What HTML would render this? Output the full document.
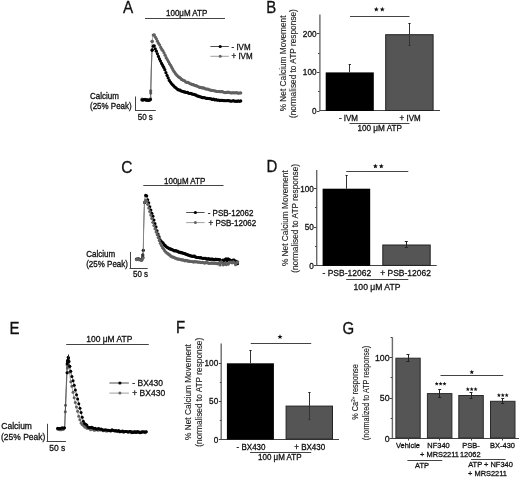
<!DOCTYPE html>
<html><head><meta charset="utf-8"><style>
html,body{margin:0;padding:0;background:#fff;}
svg{display:block;will-change:transform;}
text{font-family:"Liberation Sans",sans-serif;fill:#111;stroke:#111;stroke-width:0.28px;}
</style></head><body>
<svg width="520" height="478" viewBox="0 0 520 478">
<rect width="520" height="478" fill="#fff"/>
<text transform="translate(123,12.5) scale(1,1.12)" font-size="15.3">A</text>
<text transform="translate(166,15.6) scale(1,1.22)" font-size="8">100μM ATP</text>
<line x1="145" y1="18.5" x2="225" y2="18.5" stroke="#444" stroke-width="1"/>
<path d="M142.00,99.30 L142.07,99.30 L142.15,99.31 L142.24,99.31 L142.33,99.32 L142.43,99.33 L142.54,99.33 L142.65,99.34 L142.77,99.35 L142.90,99.36 L143.03,99.37 L143.16,99.38 L143.30,99.38 L143.44,99.39 L143.58,99.40 L143.73,99.41 L143.88,99.42 L144.03,99.43 L144.19,99.44 L144.34,99.45 L144.50,99.46 L144.65,99.46 L144.81,99.47 L144.96,99.48 L145.12,99.48 L145.27,99.49 L145.42,99.49 L145.57,99.50 L145.72,99.50 L145.86,99.50 L146.00,99.50 L146.14,99.50 L146.29,99.51 L146.44,99.52 L146.59,99.54 L146.74,99.56 L146.90,99.58 L147.06,99.61 L147.23,99.63 L147.39,99.66 L147.56,99.69 L147.72,99.72 L147.89,99.74 L148.05,99.77 L148.21,99.79 L148.38,99.81 L148.53,99.82 L148.69,99.83 L148.85,99.84 L149.00,99.84 L149.14,99.83 L149.29,99.82 L149.43,99.80 L149.56,99.77 L149.68,99.74 L149.81,99.69 L149.92,99.64 L150.03,99.57 L150.13,99.49 L150.22,99.40 L150.30,99.30 L150.37,99.19 L150.44,99.09 L150.50,98.99 L150.55,98.89 L150.59,98.80 L150.63,98.70 L150.66,98.60 L150.68,98.49 L150.70,98.38 L150.71,98.27 L150.72,98.15 L150.73,98.02 L150.73,97.88 L150.73,97.73 L150.73,97.57 L150.73,97.40 L150.72,97.22 L150.71,97.02 L150.70,96.80 L150.70,96.56 L150.69,96.31 L150.68,96.04 L150.67,95.74 L150.67,95.43 L150.67,95.09 L150.67,94.72 L150.67,94.33 L150.68,93.92 L150.69,93.47 L150.70,93.00 L150.72,92.49 L150.73,91.95 L150.75,91.36 L150.77,90.75 L150.79,90.10 L150.81,89.42 L150.83,88.72 L150.85,87.99 L150.87,87.23 L150.89,86.46 L150.91,85.67 L150.93,84.86 L150.95,84.04 L150.97,83.20 L150.99,82.36 L151.01,81.50 L151.03,80.65 L151.05,79.79 L151.07,78.92 L151.09,78.06 L151.11,77.21 L151.13,76.35 L151.16,75.51 L151.18,74.68 L151.20,73.85 L151.22,73.05 L151.24,72.25 L151.26,71.48 L151.28,70.73 L151.30,70.00 L151.32,69.28 L151.34,68.56 L151.36,67.83 L151.38,67.10 L151.40,66.37 L151.42,65.63 L151.44,64.90 L151.47,64.16 L151.49,63.43 L151.51,62.70 L151.53,61.98 L151.55,61.26 L151.57,60.54 L151.59,59.83 L151.61,59.12 L151.63,58.43 L151.65,57.74 L151.67,57.06 L151.69,56.40 L151.71,55.74 L151.73,55.10 L151.75,54.47 L151.77,53.85 L151.79,53.25 L151.81,52.66 L151.83,52.09 L151.85,51.54 L151.87,51.01 L151.88,50.49 L151.90,50.00 L151.92,49.53 L151.93,49.08 L151.94,48.64 L151.96,48.23 L151.97,47.84 L151.98,47.46 L151.99,47.10 L151.99,46.75 L152.00,46.42 L152.01,46.10 L152.02,45.79 L152.03,45.49 L152.03,45.21 L152.04,44.93 L152.05,44.66 L152.06,44.40 L152.07,44.15 L152.08,43.90 L152.09,43.66 L152.10,43.41 L152.11,43.18 L152.13,42.94 L152.14,42.71 L152.16,42.47 L152.18,42.23 L152.20,42.00 L152.22,41.75 L152.24,41.51 L152.27,41.26 L152.30,41.00 L152.33,40.74 L152.36,40.46 L152.39,40.18 L152.42,39.90 L152.45,39.61 L152.48,39.32 L152.51,39.02 L152.54,38.72 L152.58,38.43 L152.61,38.13 L152.65,37.84 L152.68,37.55 L152.72,37.27 L152.76,36.99 L152.80,36.72 L152.84,36.46 L152.89,36.21 L152.93,35.97 L152.98,35.75 L153.03,35.53 L153.09,35.33 L153.14,35.15 L153.20,34.98 L153.26,34.84 L153.33,34.71 L153.40,34.60 L153.47,34.51 L153.54,34.45 L153.62,34.41 L153.70,34.40 L153.79,34.41 L153.88,34.46 L153.97,34.53 L154.07,34.62 L154.17,34.74 L154.28,34.88 L154.39,35.03 L154.50,35.21 L154.62,35.41 L154.73,35.62 L154.85,35.85 L154.98,36.09 L155.10,36.34 L155.23,36.60 L155.36,36.87 L155.49,37.15 L155.62,37.44 L155.75,37.73 L155.88,38.02 L156.01,38.31 L156.14,38.60 L156.28,38.90 L156.41,39.18 L156.54,39.47 L156.67,39.75 L156.80,40.02 L156.93,40.28 L157.05,40.53 L157.18,40.77 L157.30,41.00 L157.42,41.22 L157.54,41.44 L157.67,41.66 L157.79,41.88 L157.91,42.10 L158.04,42.32 L158.16,42.54 L158.28,42.76 L158.41,42.98 L158.53,43.20 L158.65,43.42 L158.78,43.64 L158.90,43.86 L159.03,44.08 L159.15,44.30 L159.27,44.52 L159.40,44.74 L159.52,44.96 L159.65,45.18 L159.77,45.40 L159.89,45.62 L160.02,45.84 L160.14,46.06 L160.26,46.28 L160.39,46.50 L160.51,46.72 L160.63,46.94 L160.76,47.16 L160.88,47.38 L161.00,47.60 L161.12,47.82 L161.24,48.04 L161.36,48.26 L161.48,48.47 L161.60,48.69 L161.72,48.91 L161.84,49.13 L161.96,49.34 L162.08,49.56 L162.20,49.77 L162.32,49.99 L162.44,50.21 L162.56,50.42 L162.68,50.64 L162.80,50.86 L162.92,51.07 L163.04,51.29 L163.16,51.51 L163.28,51.73 L163.40,51.95 L163.52,52.17 L163.64,52.39 L163.76,52.61 L163.88,52.84 L164.00,53.06 L164.12,53.28 L164.24,53.51 L164.36,53.74 L164.48,53.97 L164.60,54.20 L164.72,54.43 L164.84,54.67 L164.97,54.91 L165.09,55.14 L165.21,55.39 L165.33,55.63 L165.46,55.87 L165.58,56.12 L165.70,56.36 L165.83,56.61 L165.95,56.86 L166.07,57.11 L166.20,57.36 L166.32,57.61 L166.44,57.86 L166.57,58.11 L166.69,58.36 L166.82,58.60 L166.94,58.85 L167.06,59.10 L167.19,59.35 L167.31,59.59 L167.43,59.84 L167.56,60.08 L167.68,60.32 L167.81,60.56 L167.93,60.80 L168.05,61.04 L168.18,61.27 L168.30,61.50 L168.42,61.73 L168.55,61.96 L168.67,62.19 L168.79,62.41 L168.92,62.64 L169.04,62.86 L169.17,63.08 L169.29,63.31 L169.41,63.53 L169.54,63.75 L169.66,63.97 L169.78,64.19 L169.91,64.40 L170.03,64.62 L170.16,64.84 L170.28,65.05 L170.40,65.27 L170.53,65.48 L170.65,65.69 L170.77,65.91 L170.90,66.12 L171.02,66.33 L171.14,66.54 L171.27,66.75 L171.39,66.96 L171.51,67.17 L171.63,67.38 L171.76,67.59 L171.88,67.79 L172.00,68.00 L172.12,68.21 L172.24,68.42 L172.36,68.62 L172.48,68.83 L172.60,69.04 L172.72,69.25 L172.84,69.46 L172.96,69.67 L173.08,69.88 L173.20,70.09 L173.32,70.30 L173.44,70.51 L173.56,70.72 L173.68,70.92 L173.80,71.12 L173.92,71.33 L174.04,71.53 L174.16,71.73 L174.28,71.92 L174.40,72.12 L174.52,72.31 L174.64,72.50 L174.76,72.69 L174.88,72.87 L175.00,73.05 L175.12,73.23 L175.24,73.40 L175.36,73.57 L175.48,73.74 L175.60,73.90 L175.72,74.06 L175.84,74.21 L175.96,74.36 L176.08,74.51 L176.20,74.65 L176.32,74.79 L176.44,74.93 L176.56,75.07 L176.68,75.20 L176.80,75.33 L176.92,75.45 L177.04,75.58 L177.16,75.70 L177.28,75.82 L177.40,75.94 L177.52,76.05 L177.64,76.17 L177.76,76.28 L177.89,76.40 L178.01,76.51 L178.14,76.62 L178.26,76.73 L178.39,76.84 L178.51,76.95 L178.64,77.06 L178.77,77.16 L178.90,77.27 L179.03,77.38 L179.17,77.49 L179.30,77.60 L179.44,77.71 L179.57,77.82 L179.71,77.93 L179.85,78.03 L179.99,78.14 L180.14,78.24 L180.28,78.35 L180.43,78.45 L180.57,78.55 L180.72,78.65 L180.87,78.75 L181.01,78.85 L181.16,78.95 L181.31,79.05 L181.46,79.14 L181.61,79.24 L181.76,79.33 L181.91,79.43 L182.06,79.52 L182.21,79.61 L182.37,79.71 L182.52,79.80 L182.67,79.89 L182.82,79.98 L182.96,80.07 L183.11,80.15 L183.26,80.24 L183.41,80.33 L183.55,80.41 L183.70,80.50 L183.84,80.58 L183.99,80.67 L184.13,80.75 L184.27,80.83 L184.40,80.91 L184.54,80.98 L184.68,81.06 L184.81,81.14 L184.95,81.21 L185.08,81.29 L185.22,81.36 L185.35,81.43 L185.49,81.50 L185.62,81.57 L185.76,81.64 L185.89,81.71 L186.03,81.78 L186.17,81.85 L186.31,81.92 L186.45,81.99 L186.60,82.06 L186.74,82.13 L186.89,82.20 L187.04,82.27 L187.19,82.34 L187.35,82.41 L187.51,82.48 L187.67,82.55 L187.83,82.63 L188.00,82.70 L188.17,82.77 L188.35,82.85 L188.53,82.92 L188.71,82.99 L188.89,83.07 L189.08,83.14 L189.27,83.21 L189.46,83.29 L189.65,83.36 L189.85,83.43 L190.05,83.51 L190.24,83.58 L190.45,83.65 L190.65,83.73 L190.85,83.80 L191.05,83.87 L191.26,83.95 L191.46,84.02 L191.67,84.09 L191.87,84.17 L192.08,84.24 L192.28,84.31 L192.49,84.39 L192.69,84.46 L192.90,84.53 L193.10,84.61 L193.30,84.68 L193.50,84.75 L193.70,84.83 L193.90,84.90 L194.10,84.97 L194.29,85.05 L194.49,85.12 L194.69,85.20 L194.89,85.27 L195.09,85.35 L195.29,85.43 L195.49,85.50 L195.69,85.58 L195.89,85.66 L196.09,85.74 L196.29,85.81 L196.49,85.89 L196.69,85.97 L196.89,86.04 L197.09,86.12 L197.29,86.20 L197.49,86.27 L197.69,86.34 L197.89,86.42 L198.08,86.49 L198.28,86.56 L198.47,86.63 L198.66,86.70 L198.86,86.77 L199.05,86.84 L199.24,86.91 L199.43,86.97 L199.61,87.04 L199.80,87.10 L199.98,87.16 L200.16,87.22 L200.33,87.28 L200.50,87.33 L200.66,87.38 L200.82,87.43 L200.98,87.48 L201.14,87.53 L201.29,87.58 L201.44,87.63 L201.60,87.67 L201.75,87.72 L201.90,87.76 L202.05,87.81 L202.21,87.85 L202.36,87.89 L202.52,87.94 L202.68,87.98 L202.84,88.03 L203.01,88.07 L203.18,88.12 L203.36,88.17 L203.54,88.22 L203.73,88.27 L203.92,88.32 L204.12,88.37 L204.33,88.42 L204.54,88.48 L204.77,88.54 L205.00,88.60 L205.24,88.66 L205.49,88.73 L205.74,88.80 L206.00,88.86 L206.26,88.94 L206.53,89.01 L206.81,89.08 L207.09,89.16 L207.37,89.23 L207.66,89.31 L207.95,89.39 L208.25,89.47 L208.55,89.55 L208.85,89.63 L209.16,89.71 L209.47,89.79 L209.79,89.87 L210.10,89.94 L210.42,90.02 L210.74,90.10 L211.06,90.18 L211.39,90.25 L211.71,90.33 L212.04,90.40 L212.36,90.47 L212.69,90.54 L213.02,90.61 L213.35,90.68 L213.67,90.74 L214.00,90.80 L214.33,90.86 L214.65,90.92 L214.97,90.98 L215.29,91.03 L215.61,91.09 L215.92,91.14 L216.24,91.19 L216.56,91.25 L216.88,91.30 L217.20,91.35 L217.52,91.40 L217.85,91.45 L218.17,91.49 L218.50,91.54 L218.84,91.59 L219.18,91.63 L219.52,91.68 L219.87,91.72 L220.22,91.76 L220.58,91.81 L220.94,91.85 L221.32,91.89 L221.70,91.93 L222.08,91.97 L222.48,92.01 L222.88,92.05 L223.30,92.09 L223.72,92.13 L224.16,92.16 L224.60,92.20 L225.07,92.24 L225.56,92.27 L226.08,92.31 L226.62,92.34 L227.19,92.38 L227.77,92.41 L228.37,92.44 L228.99,92.48 L229.61,92.51 L230.24,92.54 L230.89,92.57 L231.53,92.60 L232.18,92.63 L232.82,92.66 L233.46,92.69 L234.10,92.71 L234.73,92.74 L235.34,92.77 L235.95,92.79 L236.53,92.81 L237.10,92.84 L237.65,92.86 L238.18,92.88 L238.68,92.90 L239.15,92.92 L239.59,92.94 L240.00,92.96 L240.37,92.97 L240.71,92.99 L241.00,93.00" fill="none" stroke="#888" stroke-width="1"/><circle cx="142.00" cy="99.04" r="1.6" fill="#606060"/><circle cx="143.03" cy="99.61" r="1.6" fill="#606060"/><circle cx="144.03" cy="99.62" r="1.6" fill="#606060"/><circle cx="145.12" cy="99.31" r="1.6" fill="#606060"/><circle cx="146.14" cy="99.50" r="1.6" fill="#606060"/><circle cx="147.23" cy="99.60" r="1.6" fill="#606060"/><circle cx="148.38" cy="99.91" r="1.6" fill="#606060"/><circle cx="149.43" cy="100.00" r="1.6" fill="#606060"/><circle cx="150.44" cy="98.81" r="1.6" fill="#606060"/><circle cx="152.22" cy="41.42" r="1.6" fill="#606060"/><circle cx="153.26" cy="35.07" r="1.6" fill="#606060"/><circle cx="154.28" cy="34.83" r="1.6" fill="#606060"/><circle cx="155.36" cy="37.06" r="1.6" fill="#606060"/><circle cx="156.41" cy="38.84" r="1.6" fill="#606060"/><circle cx="157.42" cy="41.18" r="1.6" fill="#606060"/><circle cx="158.53" cy="43.36" r="1.6" fill="#606060"/><circle cx="159.65" cy="44.99" r="1.6" fill="#606060"/><circle cx="160.76" cy="47.47" r="1.6" fill="#606060"/><circle cx="161.84" cy="49.41" r="1.6" fill="#606060"/><circle cx="162.92" cy="50.74" r="1.6" fill="#606060"/><circle cx="164.00" cy="52.73" r="1.6" fill="#606060"/><circle cx="165.09" cy="55.17" r="1.6" fill="#606060"/><circle cx="166.20" cy="57.66" r="1.6" fill="#606060"/><circle cx="167.31" cy="59.51" r="1.6" fill="#606060"/><circle cx="168.42" cy="61.53" r="1.6" fill="#606060"/><circle cx="169.54" cy="63.69" r="1.6" fill="#606060"/><circle cx="170.65" cy="65.37" r="1.6" fill="#606060"/><circle cx="171.76" cy="67.39" r="1.6" fill="#606060"/><circle cx="172.84" cy="69.42" r="1.6" fill="#606060"/><circle cx="173.92" cy="71.32" r="1.6" fill="#606060"/><circle cx="175.00" cy="72.86" r="1.6" fill="#606060"/><circle cx="176.08" cy="74.32" r="1.6" fill="#606060"/><circle cx="177.16" cy="75.50" r="1.6" fill="#606060"/><circle cx="178.26" cy="76.70" r="1.6" fill="#606060"/><circle cx="179.30" cy="77.45" r="1.6" fill="#606060"/><circle cx="180.43" cy="78.11" r="1.6" fill="#606060"/><circle cx="181.46" cy="79.38" r="1.6" fill="#606060"/><circle cx="182.52" cy="79.84" r="1.6" fill="#606060"/><circle cx="183.55" cy="80.51" r="1.6" fill="#606060"/><circle cx="184.68" cy="80.84" r="1.6" fill="#606060"/><circle cx="185.76" cy="81.99" r="1.6" fill="#606060"/><circle cx="186.89" cy="82.45" r="1.6" fill="#606060"/><circle cx="188.00" cy="82.43" r="1.6" fill="#606060"/><circle cx="189.08" cy="83.02" r="1.6" fill="#606060"/><circle cx="190.24" cy="83.74" r="1.6" fill="#606060"/><circle cx="191.26" cy="84.09" r="1.6" fill="#606060"/><circle cx="192.28" cy="84.62" r="1.6" fill="#606060"/><circle cx="193.30" cy="84.63" r="1.6" fill="#606060"/><circle cx="194.49" cy="85.35" r="1.6" fill="#606060"/><circle cx="195.69" cy="85.70" r="1.6" fill="#606060"/><circle cx="196.69" cy="85.83" r="1.6" fill="#606060"/><circle cx="197.89" cy="86.48" r="1.6" fill="#606060"/><circle cx="199.05" cy="87.11" r="1.6" fill="#606060"/><circle cx="200.16" cy="87.46" r="1.6" fill="#606060"/><circle cx="201.29" cy="87.58" r="1.6" fill="#606060"/><circle cx="202.36" cy="87.96" r="1.6" fill="#606060"/><circle cx="203.54" cy="87.89" r="1.6" fill="#606060"/><circle cx="204.54" cy="88.30" r="1.6" fill="#606060"/><circle cx="205.74" cy="89.00" r="1.6" fill="#606060"/><circle cx="206.81" cy="89.02" r="1.6" fill="#606060"/><circle cx="207.95" cy="89.16" r="1.6" fill="#606060"/><circle cx="209.16" cy="89.74" r="1.6" fill="#606060"/><circle cx="210.42" cy="90.16" r="1.6" fill="#606060"/><circle cx="211.71" cy="90.45" r="1.6" fill="#606060"/><circle cx="213.02" cy="90.52" r="1.6" fill="#606060"/><circle cx="214.33" cy="90.82" r="1.6" fill="#606060"/><circle cx="215.61" cy="91.09" r="1.6" fill="#606060"/><circle cx="216.88" cy="91.49" r="1.6" fill="#606060"/><circle cx="218.17" cy="91.51" r="1.6" fill="#606060"/><circle cx="219.18" cy="91.56" r="1.6" fill="#606060"/><circle cx="220.22" cy="91.76" r="1.6" fill="#606060"/><circle cx="221.32" cy="91.56" r="1.6" fill="#606060"/><circle cx="222.48" cy="91.69" r="1.6" fill="#606060"/><circle cx="223.72" cy="92.27" r="1.6" fill="#606060"/><circle cx="225.07" cy="92.57" r="1.6" fill="#606060"/><circle cx="226.08" cy="92.37" r="1.6" fill="#606060"/><circle cx="227.19" cy="92.30" r="1.6" fill="#606060"/><circle cx="228.37" cy="92.21" r="1.6" fill="#606060"/><circle cx="229.61" cy="92.51" r="1.6" fill="#606060"/><circle cx="230.89" cy="92.91" r="1.6" fill="#606060"/><circle cx="232.18" cy="92.82" r="1.6" fill="#606060"/><circle cx="233.46" cy="92.72" r="1.6" fill="#606060"/><circle cx="234.73" cy="92.99" r="1.6" fill="#606060"/><circle cx="235.95" cy="92.60" r="1.6" fill="#606060"/><circle cx="237.10" cy="92.85" r="1.6" fill="#606060"/><circle cx="238.18" cy="93.20" r="1.6" fill="#606060"/><circle cx="239.59" cy="92.99" r="1.6" fill="#606060"/><circle cx="240.71" cy="92.96" r="1.6" fill="#606060"/><circle cx="150.70" cy="90.84" r="1.6" fill="#606060"/><circle cx="150.70" cy="93.03" r="1.6" fill="#606060"/><circle cx="152.10" cy="41.32" r="1.6" fill="#606060"/>
<path d="M142.00,99.70 L142.07,99.70 L142.15,99.71 L142.24,99.71 L142.33,99.72 L142.43,99.73 L142.54,99.73 L142.65,99.74 L142.77,99.75 L142.90,99.76 L143.03,99.77 L143.16,99.78 L143.30,99.78 L143.44,99.79 L143.58,99.80 L143.73,99.81 L143.88,99.82 L144.03,99.83 L144.19,99.84 L144.34,99.85 L144.50,99.86 L144.65,99.86 L144.81,99.87 L144.96,99.88 L145.12,99.88 L145.27,99.89 L145.42,99.89 L145.57,99.90 L145.72,99.90 L145.86,99.90 L146.00,99.90 L146.14,99.90 L146.29,99.91 L146.44,99.93 L146.59,99.94 L146.74,99.97 L146.90,99.99 L147.06,100.02 L147.23,100.04 L147.39,100.07 L147.56,100.10 L147.72,100.13 L147.89,100.16 L148.05,100.19 L148.21,100.21 L148.38,100.23 L148.53,100.25 L148.69,100.26 L148.85,100.27 L149.00,100.27 L149.14,100.26 L149.29,100.25 L149.43,100.23 L149.56,100.20 L149.68,100.16 L149.81,100.11 L149.92,100.06 L150.03,99.99 L150.13,99.90 L150.22,99.81 L150.30,99.70 L150.37,99.59 L150.44,99.48 L150.50,99.37 L150.55,99.26 L150.59,99.15 L150.63,99.04 L150.66,98.92 L150.68,98.80 L150.70,98.68 L150.71,98.55 L150.72,98.42 L150.73,98.27 L150.73,98.12 L150.73,97.95 L150.73,97.77 L150.73,97.59 L150.72,97.38 L150.71,97.17 L150.70,96.93 L150.70,96.68 L150.69,96.41 L150.68,96.12 L150.67,95.82 L150.67,95.49 L150.67,95.14 L150.67,94.76 L150.67,94.36 L150.68,93.93 L150.69,93.48 L150.70,93.00 L150.72,92.48 L150.73,91.92 L150.75,91.32 L150.77,90.69 L150.79,90.02 L150.81,89.32 L150.83,88.58 L150.85,87.83 L150.87,87.05 L150.89,86.24 L150.91,85.42 L150.93,84.59 L150.95,83.74 L150.97,82.88 L150.99,82.02 L151.01,81.15 L151.03,80.28 L151.05,79.41 L151.07,78.54 L151.09,77.68 L151.11,76.83 L151.13,75.98 L151.16,75.16 L151.18,74.35 L151.20,73.56 L151.22,72.79 L151.24,72.05 L151.26,71.33 L151.28,70.65 L151.30,70.00 L151.32,69.37 L151.34,68.75 L151.36,68.13 L151.38,67.52 L151.40,66.92 L151.43,66.32 L151.45,65.74 L151.47,65.16 L151.49,64.59 L151.51,64.03 L151.54,63.48 L151.56,62.93 L151.58,62.40 L151.60,61.88 L151.63,61.36 L151.65,60.86 L151.67,60.36 L151.69,59.88 L151.71,59.41 L151.73,58.95 L151.75,58.50 L151.77,58.06 L151.79,57.63 L151.81,57.22 L151.82,56.82 L151.84,56.43 L151.86,56.05 L151.87,55.69 L151.89,55.34 L151.90,55.00 L151.91,54.68 L151.92,54.38 L151.93,54.11 L151.94,53.85 L151.94,53.61 L151.94,53.39 L151.94,53.18 L151.95,52.99 L151.95,52.81 L151.94,52.64 L151.94,52.49 L151.94,52.35 L151.94,52.21 L151.94,52.08 L151.94,51.96 L151.94,51.85 L151.94,51.74 L151.94,51.63 L151.94,51.53 L151.94,51.42 L151.95,51.32 L151.96,51.21 L151.97,51.11 L151.98,51.00 L151.99,50.88 L152.01,50.76 L152.03,50.63 L152.05,50.50 L152.07,50.35 L152.10,50.20 L152.13,50.04 L152.17,49.86 L152.20,49.68 L152.24,49.50 L152.29,49.31 L152.33,49.11 L152.38,48.92 L152.43,48.71 L152.48,48.51 L152.54,48.31 L152.59,48.10 L152.65,47.90 L152.71,47.70 L152.77,47.50 L152.82,47.31 L152.89,47.12 L152.95,46.93 L153.01,46.75 L153.07,46.58 L153.13,46.41 L153.19,46.26 L153.25,46.11 L153.31,45.98 L153.37,45.85 L153.43,45.74 L153.49,45.64 L153.54,45.56 L153.60,45.49 L153.65,45.44 L153.70,45.40 L153.75,45.38 L153.80,45.37 L153.84,45.38 L153.89,45.40 L153.94,45.44 L153.98,45.49 L154.02,45.54 L154.07,45.61 L154.11,45.69 L154.15,45.78 L154.19,45.88 L154.24,45.98 L154.28,46.10 L154.32,46.22 L154.36,46.34 L154.41,46.48 L154.45,46.61 L154.49,46.75 L154.54,46.89 L154.58,47.04 L154.63,47.19 L154.67,47.34 L154.72,47.49 L154.77,47.64 L154.82,47.79 L154.87,47.94 L154.93,48.08 L154.98,48.22 L155.04,48.36 L155.10,48.50 L155.16,48.63 L155.22,48.77 L155.28,48.90 L155.34,49.03 L155.40,49.17 L155.46,49.30 L155.53,49.44 L155.59,49.58 L155.65,49.71 L155.72,49.86 L155.78,50.00 L155.85,50.14 L155.92,50.29 L155.99,50.44 L156.06,50.59 L156.13,50.75 L156.20,50.91 L156.27,51.07 L156.35,51.24 L156.43,51.41 L156.50,51.59 L156.58,51.77 L156.67,51.95 L156.75,52.14 L156.84,52.34 L156.93,52.54 L157.02,52.74 L157.11,52.96 L157.20,53.17 L157.30,53.40 L157.40,53.63 L157.50,53.88 L157.61,54.13 L157.72,54.39 L157.83,54.66 L157.95,54.93 L158.06,55.22 L158.18,55.51 L158.30,55.80 L158.43,56.10 L158.55,56.40 L158.68,56.71 L158.80,57.02 L158.93,57.33 L159.06,57.65 L159.19,57.97 L159.32,58.28 L159.46,58.60 L159.59,58.92 L159.72,59.23 L159.85,59.55 L159.98,59.86 L160.11,60.17 L160.24,60.47 L160.37,60.77 L160.50,61.07 L160.63,61.36 L160.75,61.65 L160.88,61.93 L161.00,62.20 L161.12,62.47 L161.24,62.73 L161.36,62.98 L161.48,63.24 L161.60,63.49 L161.72,63.73 L161.84,63.97 L161.96,64.22 L162.08,64.45 L162.20,64.69 L162.32,64.92 L162.44,65.16 L162.56,65.39 L162.68,65.62 L162.80,65.85 L162.92,66.08 L163.04,66.31 L163.16,66.54 L163.28,66.78 L163.40,67.01 L163.52,67.25 L163.64,67.48 L163.76,67.73 L163.88,67.97 L164.00,68.21 L164.12,68.46 L164.24,68.72 L164.36,68.97 L164.48,69.23 L164.60,69.50 L164.72,69.77 L164.84,70.05 L164.97,70.33 L165.09,70.62 L165.21,70.91 L165.33,71.21 L165.46,71.51 L165.58,71.81 L165.70,72.12 L165.83,72.43 L165.95,72.74 L166.07,73.05 L166.20,73.36 L166.32,73.68 L166.44,73.99 L166.57,74.30 L166.69,74.61 L166.82,74.92 L166.94,75.22 L167.06,75.53 L167.19,75.83 L167.31,76.12 L167.43,76.41 L167.56,76.70 L167.68,76.98 L167.81,77.26 L167.93,77.53 L168.05,77.79 L168.18,78.05 L168.30,78.30 L168.42,78.54 L168.55,78.78 L168.67,79.02 L168.79,79.25 L168.92,79.48 L169.04,79.70 L169.17,79.92 L169.29,80.14 L169.41,80.36 L169.54,80.57 L169.66,80.77 L169.78,80.98 L169.91,81.18 L170.03,81.38 L170.16,81.57 L170.28,81.77 L170.40,81.96 L170.53,82.14 L170.65,82.33 L170.77,82.51 L170.90,82.69 L171.02,82.87 L171.14,83.04 L171.27,83.21 L171.39,83.38 L171.51,83.55 L171.63,83.72 L171.76,83.88 L171.88,84.04 L172.00,84.20 L172.12,84.36 L172.24,84.51 L172.36,84.66 L172.48,84.81 L172.60,84.95 L172.72,85.09 L172.84,85.23 L172.96,85.36 L173.08,85.49 L173.20,85.62 L173.32,85.75 L173.44,85.87 L173.56,85.99 L173.68,86.11 L173.80,86.23 L173.92,86.35 L174.04,86.46 L174.16,86.57 L174.28,86.68 L174.40,86.79 L174.52,86.90 L174.64,87.00 L174.76,87.10 L174.88,87.21 L175.00,87.31 L175.12,87.41 L175.24,87.51 L175.36,87.61 L175.48,87.70 L175.60,87.80 L175.72,87.90 L175.84,87.99 L175.96,88.08 L176.08,88.17 L176.20,88.26 L176.32,88.34 L176.44,88.42 L176.56,88.51 L176.68,88.58 L176.80,88.66 L176.92,88.74 L177.04,88.81 L177.16,88.89 L177.28,88.96 L177.40,89.03 L177.52,89.10 L177.64,89.17 L177.76,89.24 L177.89,89.30 L178.01,89.37 L178.14,89.44 L178.26,89.50 L178.39,89.56 L178.51,89.63 L178.64,89.69 L178.77,89.75 L178.90,89.81 L179.03,89.88 L179.17,89.94 L179.30,90.00 L179.44,90.06 L179.57,90.12 L179.71,90.18 L179.85,90.24 L179.99,90.29 L180.14,90.35 L180.28,90.40 L180.43,90.46 L180.57,90.51 L180.72,90.56 L180.87,90.61 L181.01,90.66 L181.16,90.71 L181.31,90.76 L181.46,90.81 L181.61,90.86 L181.76,90.91 L181.91,90.96 L182.06,91.00 L182.21,91.05 L182.37,91.09 L182.52,91.14 L182.67,91.19 L182.82,91.23 L182.96,91.28 L183.11,91.32 L183.26,91.37 L183.41,91.41 L183.55,91.46 L183.70,91.50 L183.84,91.54 L183.99,91.59 L184.13,91.63 L184.27,91.67 L184.40,91.71 L184.54,91.75 L184.68,91.79 L184.81,91.83 L184.95,91.87 L185.08,91.90 L185.22,91.94 L185.35,91.98 L185.49,92.01 L185.62,92.05 L185.76,92.09 L185.89,92.12 L186.03,92.16 L186.17,92.20 L186.31,92.24 L186.45,92.27 L186.60,92.31 L186.74,92.35 L186.89,92.39 L187.04,92.43 L187.19,92.47 L187.35,92.52 L187.51,92.56 L187.67,92.61 L187.83,92.65 L188.00,92.70 L188.17,92.75 L188.35,92.80 L188.53,92.85 L188.71,92.90 L188.89,92.95 L189.08,93.00 L189.27,93.05 L189.46,93.10 L189.65,93.16 L189.85,93.21 L190.05,93.27 L190.24,93.32 L190.45,93.38 L190.65,93.43 L190.85,93.49 L191.05,93.54 L191.26,93.60 L191.46,93.66 L191.67,93.72 L191.87,93.78 L192.08,93.84 L192.28,93.90 L192.49,93.96 L192.69,94.02 L192.90,94.08 L193.10,94.14 L193.30,94.21 L193.50,94.27 L193.70,94.34 L193.90,94.40 L194.10,94.47 L194.29,94.53 L194.49,94.60 L194.69,94.68 L194.89,94.75 L195.09,94.82 L195.29,94.90 L195.49,94.98 L195.69,95.05 L195.89,95.13 L196.09,95.21 L196.29,95.29 L196.49,95.37 L196.69,95.45 L196.89,95.53 L197.09,95.61 L197.29,95.69 L197.49,95.77 L197.69,95.85 L197.89,95.92 L198.08,96.00 L198.28,96.07 L198.47,96.14 L198.66,96.22 L198.86,96.29 L199.05,96.35 L199.24,96.42 L199.43,96.48 L199.61,96.54 L199.80,96.60 L199.98,96.66 L200.16,96.71 L200.33,96.76 L200.50,96.81 L200.66,96.85 L200.82,96.90 L200.98,96.94 L201.14,96.98 L201.29,97.02 L201.44,97.06 L201.60,97.09 L201.75,97.13 L201.90,97.16 L202.05,97.20 L202.21,97.23 L202.36,97.26 L202.52,97.30 L202.68,97.33 L202.84,97.37 L203.01,97.40 L203.18,97.43 L203.36,97.47 L203.54,97.51 L203.73,97.54 L203.92,97.58 L204.12,97.62 L204.33,97.66 L204.54,97.71 L204.77,97.75 L205.00,97.80 L205.24,97.85 L205.49,97.90 L205.74,97.95 L206.00,98.01 L206.26,98.06 L206.53,98.12 L206.81,98.17 L207.09,98.23 L207.37,98.29 L207.66,98.35 L207.95,98.41 L208.25,98.47 L208.55,98.53 L208.85,98.59 L209.16,98.66 L209.47,98.72 L209.79,98.78 L210.10,98.84 L210.42,98.90 L210.74,98.96 L211.06,99.02 L211.39,99.08 L211.71,99.13 L212.04,99.19 L212.36,99.25 L212.69,99.30 L213.02,99.35 L213.35,99.40 L213.67,99.45 L214.00,99.50 L214.33,99.55 L214.65,99.59 L214.97,99.64 L215.29,99.68 L215.61,99.72 L215.92,99.77 L216.24,99.81 L216.56,99.85 L216.88,99.89 L217.20,99.93 L217.52,99.97 L217.85,100.01 L218.17,100.05 L218.50,100.08 L218.84,100.12 L219.18,100.15 L219.52,100.19 L219.87,100.22 L220.22,100.26 L220.58,100.29 L220.94,100.33 L221.32,100.36 L221.70,100.39 L222.08,100.42 L222.48,100.45 L222.88,100.48 L223.30,100.51 L223.72,100.54 L224.16,100.57 L224.60,100.60 L225.07,100.63 L225.56,100.66 L226.08,100.68 L226.62,100.71 L227.19,100.74 L227.77,100.76 L228.37,100.79 L228.99,100.81 L229.61,100.84 L230.24,100.86 L230.89,100.88 L231.53,100.90 L232.18,100.93 L232.82,100.95 L233.46,100.97 L234.10,100.99 L234.73,101.01 L235.34,101.03 L235.95,101.05 L236.53,101.06 L237.10,101.08 L237.65,101.10 L238.18,101.11 L238.68,101.13 L239.15,101.14 L239.59,101.15 L240.00,101.17 L240.37,101.18 L240.71,101.19 L241.00,101.20" fill="none" stroke="#444" stroke-width="0.8"/><circle cx="142.00" cy="100.02" r="1.6" fill="#000"/><circle cx="143.03" cy="100.08" r="1.6" fill="#000"/><circle cx="144.03" cy="99.52" r="1.6" fill="#000"/><circle cx="145.12" cy="99.59" r="1.6" fill="#000"/><circle cx="146.14" cy="100.14" r="1.6" fill="#000"/><circle cx="147.23" cy="100.21" r="1.6" fill="#000"/><circle cx="148.38" cy="100.35" r="1.6" fill="#000"/><circle cx="149.43" cy="100.10" r="1.6" fill="#000"/><circle cx="150.44" cy="99.55" r="1.6" fill="#000"/><circle cx="152.20" cy="49.76" r="1.6" fill="#000"/><circle cx="153.25" cy="46.17" r="1.6" fill="#000"/><circle cx="154.28" cy="45.86" r="1.6" fill="#000"/><circle cx="155.28" cy="48.85" r="1.6" fill="#000"/><circle cx="156.35" cy="51.17" r="1.6" fill="#000"/><circle cx="157.40" cy="53.79" r="1.6" fill="#000"/><circle cx="158.43" cy="56.45" r="1.6" fill="#000"/><circle cx="159.46" cy="58.92" r="1.6" fill="#000"/><circle cx="160.50" cy="61.10" r="1.6" fill="#000"/><circle cx="161.60" cy="63.45" r="1.6" fill="#000"/><circle cx="162.68" cy="65.46" r="1.6" fill="#000"/><circle cx="163.76" cy="67.40" r="1.6" fill="#000"/><circle cx="164.84" cy="69.72" r="1.6" fill="#000"/><circle cx="165.95" cy="72.72" r="1.6" fill="#000"/><circle cx="167.06" cy="75.40" r="1.6" fill="#000"/><circle cx="168.18" cy="77.97" r="1.6" fill="#000"/><circle cx="169.29" cy="80.42" r="1.6" fill="#000"/><circle cx="170.40" cy="81.98" r="1.6" fill="#000"/><circle cx="171.51" cy="83.59" r="1.6" fill="#000"/><circle cx="172.60" cy="84.76" r="1.6" fill="#000"/><circle cx="173.68" cy="85.78" r="1.6" fill="#000"/><circle cx="174.76" cy="86.98" r="1.6" fill="#000"/><circle cx="175.84" cy="87.73" r="1.6" fill="#000"/><circle cx="176.92" cy="88.75" r="1.6" fill="#000"/><circle cx="178.01" cy="89.72" r="1.6" fill="#000"/><circle cx="179.03" cy="90.00" r="1.6" fill="#000"/><circle cx="180.14" cy="90.13" r="1.6" fill="#000"/><circle cx="181.16" cy="90.99" r="1.6" fill="#000"/><circle cx="182.21" cy="91.26" r="1.6" fill="#000"/><circle cx="183.26" cy="91.53" r="1.6" fill="#000"/><circle cx="184.27" cy="91.96" r="1.6" fill="#000"/><circle cx="185.35" cy="92.16" r="1.6" fill="#000"/><circle cx="186.45" cy="92.48" r="1.6" fill="#000"/><circle cx="187.51" cy="92.46" r="1.6" fill="#000"/><circle cx="188.53" cy="93.18" r="1.6" fill="#000"/><circle cx="189.65" cy="93.48" r="1.6" fill="#000"/><circle cx="190.85" cy="93.25" r="1.6" fill="#000"/><circle cx="191.87" cy="93.96" r="1.6" fill="#000"/><circle cx="192.90" cy="94.23" r="1.6" fill="#000"/><circle cx="193.90" cy="94.37" r="1.6" fill="#000"/><circle cx="195.09" cy="94.85" r="1.6" fill="#000"/><circle cx="196.09" cy="95.21" r="1.6" fill="#000"/><circle cx="197.29" cy="95.99" r="1.6" fill="#000"/><circle cx="198.47" cy="96.15" r="1.6" fill="#000"/><circle cx="199.61" cy="96.77" r="1.6" fill="#000"/><circle cx="200.66" cy="96.75" r="1.6" fill="#000"/><circle cx="201.75" cy="97.40" r="1.6" fill="#000"/><circle cx="202.84" cy="97.65" r="1.6" fill="#000"/><circle cx="203.92" cy="97.56" r="1.6" fill="#000"/><circle cx="205.00" cy="97.85" r="1.6" fill="#000"/><circle cx="206.26" cy="98.36" r="1.6" fill="#000"/><circle cx="207.37" cy="98.45" r="1.6" fill="#000"/><circle cx="208.55" cy="98.52" r="1.6" fill="#000"/><circle cx="209.79" cy="98.58" r="1.6" fill="#000"/><circle cx="211.06" cy="98.90" r="1.6" fill="#000"/><circle cx="212.36" cy="99.39" r="1.6" fill="#000"/><circle cx="213.67" cy="99.22" r="1.6" fill="#000"/><circle cx="214.97" cy="99.92" r="1.6" fill="#000"/><circle cx="216.24" cy="99.65" r="1.6" fill="#000"/><circle cx="217.52" cy="100.26" r="1.6" fill="#000"/><circle cx="218.84" cy="99.99" r="1.6" fill="#000"/><circle cx="219.87" cy="100.54" r="1.6" fill="#000"/><circle cx="220.94" cy="100.47" r="1.6" fill="#000"/><circle cx="222.08" cy="100.42" r="1.6" fill="#000"/><circle cx="223.30" cy="100.53" r="1.6" fill="#000"/><circle cx="224.60" cy="100.71" r="1.6" fill="#000"/><circle cx="226.08" cy="100.74" r="1.6" fill="#000"/><circle cx="227.19" cy="100.60" r="1.6" fill="#000"/><circle cx="228.37" cy="100.58" r="1.6" fill="#000"/><circle cx="229.61" cy="100.84" r="1.6" fill="#000"/><circle cx="230.89" cy="101.19" r="1.6" fill="#000"/><circle cx="232.18" cy="101.01" r="1.6" fill="#000"/><circle cx="233.46" cy="100.67" r="1.6" fill="#000"/><circle cx="234.73" cy="101.23" r="1.6" fill="#000"/><circle cx="235.95" cy="101.20" r="1.6" fill="#000"/><circle cx="237.10" cy="101.37" r="1.6" fill="#000"/><circle cx="238.18" cy="100.90" r="1.6" fill="#000"/><circle cx="239.59" cy="101.33" r="1.6" fill="#000"/><circle cx="240.71" cy="100.88" r="1.6" fill="#000"/><circle cx="152.10" cy="50.31" r="1.6" fill="#000"/>
<line x1="210.4" y1="46.5" x2="228.8" y2="46.5" stroke="#222" stroke-width="0.8"/>
<circle cx="220.2" cy="46.5" r="1.6" fill="#000"/>
<text transform="translate(231.5,49.6) scale(1,1.22)" font-size="8">- IVM</text>
<line x1="210.4" y1="56.3" x2="228.8" y2="56.3" stroke="#888" stroke-width="0.8"/>
<circle cx="220.2" cy="56.3" r="1.5" fill="#666"/>
<text transform="translate(231.5,59.4) scale(1,1.22)" font-size="8">+ IVM</text>
<text transform="translate(90,99) scale(1,1.22)" font-size="8">Calcium</text>
<text transform="translate(90,109) scale(1,1.22)" font-size="8">(25% Peak)</text>
<line x1="135.5" y1="96.5" x2="135.5" y2="110.9" stroke="#444" stroke-width="1"/>
<line x1="135.1" y1="110.5" x2="155.8" y2="110.5" stroke="#444" stroke-width="1"/>
<text transform="translate(137.7,119.5) scale(1,1.22)" font-size="8">50 s</text>
<text transform="translate(266.2,12.5) scale(1,1.12)" font-size="15">B</text>
<line x1="319.9" y1="14.5" x2="319.9" y2="111" stroke="#6a6a6a" stroke-width="1.4"/>
<line x1="317" y1="111.5" x2="319.5" y2="111.5" stroke="#444" stroke-width="1"/>
<text transform="translate(316.5,113.9) scale(1,1.12)" font-size="8.2" text-anchor="end">0</text>
<line x1="317" y1="72.5" x2="319.5" y2="72.5" stroke="#444" stroke-width="1"/>
<text transform="translate(316.5,75.30000000000001) scale(1,1.12)" font-size="8.2" text-anchor="end">100</text>
<line x1="317" y1="33.5" x2="319.5" y2="33.5" stroke="#444" stroke-width="1"/>
<text transform="translate(316.5,36.699999999999996) scale(1,1.12)" font-size="8.2" text-anchor="end">200</text>
<line x1="318" y1="91.5" x2="319.5" y2="91.5" stroke="#444" stroke-width="1"/>
<line x1="318" y1="53.5" x2="319.5" y2="53.5" stroke="#444" stroke-width="1"/>
<line x1="319.5" y1="110.5" x2="440" y2="110.5" stroke="#444" stroke-width="1"/>
<rect x="325.7" y="72.4" width="48.10" height="38.60" fill="#000"/>
<rect x="385.70" y="34.70" width="47.40" height="75.80" fill="#555" stroke="#222" stroke-width="1"/>
<line x1="349.5" y1="64.3" x2="349.5" y2="72.4" stroke="#333" stroke-width="1"/>
<line x1="348.7" y1="64.5" x2="350.9" y2="64.5" stroke="#222" stroke-width="1"/>
<line x1="409.5" y1="23.4" x2="409.5" y2="45" stroke="#333" stroke-width="1"/>
<line x1="408.4" y1="23.5" x2="410.6" y2="23.5" stroke="#222" stroke-width="1"/>
<line x1="408.4" y1="45.5" x2="410.6" y2="45.5" stroke="#333" stroke-width="1"/>
<line x1="350" y1="16.5" x2="409.5" y2="16.5" stroke="#444" stroke-width="1"/>
<polygon points="376.30,6.85 376.99,8.50 378.77,8.64 377.41,9.81 377.83,11.55 376.30,10.62 374.77,11.55 375.19,9.81 373.83,8.64 375.61,8.50" fill="#111"/>
<polygon points="382.30,6.85 382.99,8.50 384.77,8.64 383.41,9.81 383.83,11.55 382.30,10.62 380.77,11.55 381.19,9.81 379.83,8.64 381.61,8.50" fill="#111"/>
<text transform="translate(338.9,121) scale(1,1.12)" font-size="8">- IVM</text>
<text transform="translate(399.6,121) scale(1,1.12)" font-size="8">+ IVM</text>
<line x1="349.5" y1="123.5" x2="409.5" y2="123.5" stroke="#444" stroke-width="1"/>
<text transform="translate(357.4,131.3) scale(1,1.05)" font-size="8.2">100 μM ATP</text>
<text transform="translate(286.3,63.4) rotate(-90) scale(1,1.13)" font-size="8.3" text-anchor="middle" style="stroke-width:0.12px;fill:#222;stroke:#222">% Net Calcium Movement</text>
<text transform="translate(296.2,63.6) rotate(-90) scale(1,1.13)" font-size="8.3" text-anchor="middle" style="stroke-width:0.12px;fill:#222;stroke:#222">(normalised to ATP response)</text>
<text transform="translate(121.3,172.6) scale(1,1.12)" font-size="15.5">C</text>
<text transform="translate(164,183.5) scale(1,1.22)" font-size="8">100μM ATP</text>
<line x1="143.3" y1="185.5" x2="223.5" y2="185.5" stroke="#444" stroke-width="1"/>
<path d="M136.50,259.30 L136.54,259.29 L136.59,259.29 L136.65,259.28 L136.70,259.27 L136.76,259.26 L136.83,259.25 L136.90,259.24 L136.97,259.23 L137.04,259.21 L137.12,259.20 L137.20,259.19 L137.28,259.17 L137.37,259.16 L137.45,259.15 L137.54,259.13 L137.64,259.12 L137.73,259.10 L137.82,259.09 L137.92,259.08 L138.01,259.07 L138.11,259.06 L138.21,259.04 L138.31,259.04 L138.41,259.03 L138.51,259.02 L138.61,259.01 L138.71,259.01 L138.80,259.00 L138.90,259.00 L139.00,259.00 L139.10,259.01 L139.20,259.02 L139.31,259.05 L139.42,259.08 L139.53,259.13 L139.65,259.18 L139.76,259.23 L139.88,259.29 L140.00,259.35 L140.13,259.41 L140.25,259.47 L140.37,259.54 L140.50,259.60 L140.62,259.66 L140.74,259.71 L140.87,259.76 L140.99,259.81 L141.11,259.84 L141.23,259.87 L141.34,259.89 L141.45,259.90 L141.56,259.89 L141.67,259.88 L141.77,259.84 L141.87,259.80 L141.97,259.74 L142.06,259.66 L142.15,259.56 L142.23,259.44 L142.30,259.30 L142.37,259.15 L142.43,258.98 L142.50,258.81 L142.55,258.62 L142.61,258.43 L142.66,258.23 L142.71,258.01 L142.75,257.79 L142.79,257.55 L142.83,257.31 L142.87,257.05 L142.90,256.78 L142.93,256.51 L142.96,256.22 L142.99,255.92 L143.01,255.61 L143.04,255.29 L143.06,254.95 L143.08,254.61 L143.10,254.25 L143.12,253.88 L143.14,253.50 L143.16,253.10 L143.18,252.70 L143.20,252.28 L143.22,251.85 L143.24,251.41 L143.26,250.95 L143.28,250.48 L143.30,250.00 L143.32,249.50 L143.34,248.99 L143.36,248.46 L143.37,247.91 L143.38,247.34 L143.40,246.76 L143.41,246.17 L143.41,245.56 L143.42,244.94 L143.43,244.31 L143.44,243.67 L143.44,243.01 L143.45,242.34 L143.45,241.67 L143.46,240.98 L143.46,240.29 L143.47,239.58 L143.47,238.87 L143.48,238.16 L143.48,237.43 L143.49,236.70 L143.50,235.97 L143.50,235.23 L143.51,234.49 L143.52,233.75 L143.54,233.00 L143.55,232.25 L143.56,231.50 L143.58,230.75 L143.60,230.00 L143.62,229.23 L143.64,228.44 L143.67,227.62 L143.69,226.78 L143.72,225.91 L143.75,225.03 L143.78,224.13 L143.81,223.22 L143.84,222.30 L143.87,221.37 L143.90,220.43 L143.94,219.50 L143.97,218.56 L144.00,217.62 L144.04,216.69 L144.07,215.76 L144.11,214.85 L144.14,213.94 L144.17,213.06 L144.21,212.19 L144.24,211.33 L144.27,210.51 L144.30,209.70 L144.34,208.93 L144.37,208.18 L144.40,207.47 L144.42,206.79 L144.45,206.15 L144.48,205.56 L144.50,205.00 L144.52,204.48 L144.54,204.00 L144.56,203.55 L144.58,203.13 L144.60,202.74 L144.61,202.38 L144.63,202.04 L144.64,201.73 L144.66,201.44 L144.67,201.17 L144.68,200.93 L144.70,200.70 L144.71,200.49 L144.72,200.29 L144.73,200.11 L144.74,199.94 L144.76,199.78 L144.77,199.63 L144.78,199.48 L144.80,199.35 L144.81,199.22 L144.83,199.09 L144.84,198.96 L144.86,198.84 L144.88,198.71 L144.90,198.58 L144.92,198.44 L144.95,198.30 L144.97,198.16 L145.00,198.00 L145.03,197.84 L145.06,197.68 L145.09,197.52 L145.12,197.36 L145.15,197.21 L145.18,197.05 L145.22,196.90 L145.25,196.76 L145.29,196.61 L145.32,196.47 L145.36,196.34 L145.40,196.21 L145.43,196.09 L145.47,195.97 L145.51,195.86 L145.55,195.76 L145.59,195.66 L145.64,195.58 L145.68,195.50 L145.72,195.43 L145.77,195.36 L145.81,195.31 L145.86,195.27 L145.90,195.24 L145.95,195.22 L146.00,195.21 L146.05,195.21 L146.10,195.23 L146.15,195.26 L146.20,195.30 L146.25,195.36 L146.31,195.43 L146.36,195.51 L146.41,195.61 L146.47,195.72 L146.53,195.85 L146.58,195.99 L146.64,196.13 L146.70,196.29 L146.76,196.46 L146.82,196.64 L146.89,196.82 L146.95,197.02 L147.01,197.22 L147.07,197.43 L147.14,197.64 L147.20,197.86 L147.27,198.08 L147.34,198.31 L147.40,198.54 L147.47,198.77 L147.54,199.01 L147.61,199.25 L147.68,199.49 L147.75,199.73 L147.82,199.96 L147.89,200.20 L147.96,200.44 L148.03,200.67 L148.10,200.90 L148.17,201.13 L148.25,201.37 L148.32,201.61 L148.39,201.86 L148.47,202.11 L148.55,202.36 L148.62,202.62 L148.70,202.88 L148.78,203.15 L148.86,203.42 L148.94,203.69 L149.02,203.96 L149.10,204.24 L149.18,204.52 L149.26,204.80 L149.34,205.08 L149.43,205.36 L149.51,205.65 L149.59,205.93 L149.67,206.21 L149.76,206.50 L149.84,206.78 L149.92,207.06 L150.01,207.35 L150.09,207.63 L150.17,207.91 L150.25,208.18 L150.34,208.46 L150.42,208.73 L150.50,209.00 L150.58,209.27 L150.66,209.54 L150.75,209.80 L150.83,210.07 L150.91,210.34 L151.00,210.61 L151.08,210.87 L151.16,211.14 L151.25,211.41 L151.33,211.67 L151.41,211.94 L151.50,212.21 L151.58,212.47 L151.67,212.74 L151.75,213.01 L151.83,213.27 L151.92,213.54 L152.00,213.80 L152.09,214.07 L152.17,214.34 L152.25,214.60 L152.34,214.87 L152.42,215.14 L152.50,215.40 L152.59,215.67 L152.67,215.93 L152.75,216.20 L152.84,216.47 L152.92,216.73 L153.00,217.00 L153.08,217.27 L153.16,217.53 L153.24,217.80 L153.33,218.07 L153.41,218.33 L153.49,218.60 L153.57,218.86 L153.65,219.13 L153.73,219.39 L153.81,219.66 L153.89,219.92 L153.97,220.19 L154.05,220.46 L154.13,220.72 L154.21,220.99 L154.29,221.25 L154.37,221.52 L154.44,221.79 L154.52,222.05 L154.60,222.32 L154.68,222.59 L154.76,222.85 L154.84,223.12 L154.92,223.39 L155.00,223.66 L155.08,223.92 L155.16,224.19 L155.24,224.46 L155.32,224.73 L155.40,225.00 L155.48,225.27 L155.56,225.54 L155.64,225.82 L155.72,226.10 L155.80,226.37 L155.88,226.65 L155.96,226.93 L156.04,227.21 L156.12,227.50 L156.20,227.78 L156.28,228.06 L156.36,228.34 L156.44,228.62 L156.52,228.91 L156.60,229.19 L156.68,229.47 L156.76,229.75 L156.84,230.03 L156.92,230.30 L157.00,230.58 L157.08,230.85 L157.16,231.12 L157.24,231.39 L157.32,231.66 L157.40,231.92 L157.48,232.19 L157.56,232.44 L157.64,232.70 L157.72,232.95 L157.80,233.20 L157.88,233.45 L157.96,233.69 L158.04,233.94 L158.11,234.18 L158.19,234.42 L158.27,234.66 L158.34,234.90 L158.42,235.14 L158.49,235.38 L158.57,235.61 L158.64,235.85 L158.72,236.08 L158.79,236.31 L158.87,236.54 L158.94,236.76 L159.02,236.99 L159.10,237.21 L159.18,237.42 L159.25,237.64 L159.33,237.85 L159.41,238.06 L159.50,238.27 L159.58,238.47 L159.66,238.67 L159.75,238.87 L159.83,239.06 L159.92,239.25 L160.01,239.44 L160.11,239.62 L160.20,239.80 L160.30,239.97 L160.39,240.14 L160.50,240.31 L160.60,240.47 L160.70,240.63 L160.81,240.79 L160.92,240.94 L161.03,241.09 L161.14,241.23 L161.25,241.37 L161.37,241.51 L161.48,241.65 L161.59,241.78 L161.71,241.91 L161.82,242.04 L161.94,242.17 L162.06,242.30 L162.17,242.42 L162.29,242.54 L162.40,242.66 L162.52,242.78 L162.63,242.89 L162.75,243.01 L162.86,243.12 L162.97,243.24 L163.08,243.35 L163.19,243.46 L163.29,243.58 L163.40,243.69 L163.50,243.80 L163.60,243.91 L163.70,244.02 L163.80,244.12 L163.89,244.23 L163.99,244.33 L164.08,244.43 L164.17,244.53 L164.26,244.63 L164.35,244.72 L164.44,244.81 L164.53,244.91 L164.61,245.00 L164.70,245.09 L164.79,245.18 L164.88,245.26 L164.96,245.35 L165.05,245.43 L165.14,245.52 L165.23,245.60 L165.32,245.69 L165.41,245.77 L165.50,245.85 L165.60,245.93 L165.69,246.01 L165.79,246.09 L165.89,246.18 L165.99,246.26 L166.09,246.34 L166.19,246.42 L166.30,246.50 L166.41,246.58 L166.52,246.66 L166.63,246.74 L166.74,246.82 L166.85,246.90 L166.96,246.98 L167.07,247.05 L167.19,247.13 L167.30,247.20 L167.42,247.28 L167.54,247.35 L167.65,247.43 L167.77,247.50 L167.89,247.57 L168.01,247.64 L168.13,247.72 L168.26,247.79 L168.38,247.86 L168.51,247.93 L168.64,248.00 L168.77,248.07 L168.90,248.14 L169.03,248.21 L169.16,248.28 L169.30,248.35 L169.43,248.42 L169.57,248.49 L169.71,248.56 L169.86,248.63 L170.00,248.70 L170.15,248.77 L170.30,248.84 L170.45,248.91 L170.60,248.98 L170.76,249.05 L170.92,249.12 L171.08,249.19 L171.24,249.26 L171.40,249.33 L171.57,249.40 L171.74,249.47 L171.91,249.53 L172.08,249.60 L172.25,249.67 L172.42,249.74 L172.59,249.80 L172.76,249.87 L172.94,249.94 L173.11,250.00 L173.29,250.07 L173.46,250.14 L173.63,250.20 L173.81,250.26 L173.98,250.33 L174.15,250.39 L174.32,250.45 L174.49,250.52 L174.66,250.58 L174.83,250.64 L175.00,250.70 L175.17,250.76 L175.33,250.82 L175.50,250.88 L175.67,250.93 L175.83,250.99 L176.00,251.05 L176.17,251.10 L176.33,251.16 L176.50,251.21 L176.67,251.27 L176.83,251.32 L177.00,251.37 L177.17,251.43 L177.33,251.48 L177.50,251.53 L177.67,251.58 L177.83,251.63 L178.00,251.69 L178.17,251.74 L178.33,251.79 L178.50,251.84 L178.67,251.89 L178.83,251.94 L179.00,251.99 L179.17,252.04 L179.33,252.09 L179.50,252.15 L179.67,252.20 L179.83,252.25 L180.00,252.30 L180.17,252.35 L180.33,252.40 L180.50,252.45 L180.67,252.50 L180.83,252.55 L181.00,252.60 L181.17,252.65 L181.33,252.70 L181.50,252.75 L181.67,252.80 L181.83,252.85 L182.00,252.90 L182.17,252.95 L182.33,253.00 L182.50,253.05 L182.67,253.10 L182.83,253.15 L183.00,253.20 L183.17,253.25 L183.33,253.30 L183.50,253.35 L183.67,253.40 L183.83,253.45 L184.00,253.50 L184.17,253.55 L184.33,253.60 L184.50,253.65 L184.67,253.70 L184.83,253.75 L185.00,253.80 L185.17,253.85 L185.33,253.90 L185.50,253.96 L185.67,254.01 L185.83,254.07 L186.00,254.12 L186.17,254.17 L186.33,254.23 L186.50,254.29 L186.67,254.34 L186.83,254.40 L187.00,254.45 L187.17,254.51 L187.33,254.56 L187.50,254.62 L187.67,254.67 L187.83,254.73 L188.00,254.78 L188.17,254.84 L188.33,254.89 L188.50,254.95 L188.67,255.00 L188.83,255.05 L189.00,255.10 L189.17,255.16 L189.33,255.21 L189.50,255.26 L189.67,255.30 L189.83,255.35 L190.00,255.40 L190.17,255.45 L190.33,255.49 L190.50,255.54 L190.66,255.58 L190.83,255.62 L190.99,255.67 L191.15,255.71 L191.32,255.75 L191.48,255.79 L191.64,255.83 L191.81,255.87 L191.97,255.91 L192.13,255.95 L192.30,255.99 L192.46,256.03 L192.63,256.06 L192.79,256.10 L192.96,256.14 L193.12,256.18 L193.29,256.21 L193.46,256.25 L193.62,256.29 L193.79,256.33 L193.96,256.37 L194.13,256.40 L194.30,256.44 L194.48,256.48 L194.65,256.52 L194.82,256.56 L195.00,256.60 L195.17,256.64 L195.35,256.68 L195.52,256.72 L195.68,256.76 L195.85,256.80 L196.01,256.84 L196.17,256.88 L196.33,256.91 L196.49,256.95 L196.66,256.99 L196.82,257.03 L196.98,257.07 L197.15,257.11 L197.31,257.15 L197.48,257.19 L197.65,257.23 L197.83,257.27 L198.01,257.31 L198.19,257.35 L198.38,257.39 L198.57,257.43 L198.77,257.47 L198.97,257.51 L199.18,257.55 L199.40,257.59 L199.62,257.63 L199.86,257.67 L200.09,257.71 L200.34,257.76 L200.60,257.80 L200.87,257.84 L201.14,257.89 L201.43,257.94 L201.72,257.98 L202.02,258.03 L202.33,258.08 L202.65,258.13 L202.97,258.18 L203.30,258.23 L203.63,258.28 L203.97,258.33 L204.32,258.38 L204.66,258.44 L205.01,258.49 L205.37,258.54 L205.73,258.59 L206.08,258.64 L206.44,258.69 L206.81,258.74 L207.17,258.79 L207.53,258.83 L207.89,258.88 L208.25,258.92 L208.61,258.97 L208.96,259.01 L209.32,259.05 L209.67,259.09 L210.02,259.13 L210.36,259.17 L210.70,259.20 L211.04,259.23 L211.37,259.26 L211.71,259.29 L212.05,259.32 L212.38,259.34 L212.72,259.36 L213.06,259.39 L213.39,259.41 L213.73,259.43 L214.07,259.44 L214.40,259.46 L214.74,259.48 L215.08,259.49 L215.41,259.51 L215.75,259.52 L216.09,259.54 L216.42,259.55 L216.76,259.57 L217.10,259.58 L217.43,259.60 L217.77,259.62 L218.11,259.63 L218.44,259.65 L218.78,259.67 L219.12,259.69 L219.45,259.71 L219.79,259.73 L220.13,259.75 L220.46,259.77 L220.80,259.80 L221.14,259.83 L221.48,259.85 L221.82,259.88 L222.17,259.91 L222.51,259.94 L222.86,259.96 L223.21,259.99 L223.56,260.02 L223.91,260.05 L224.26,260.08 L224.61,260.11 L224.96,260.14 L225.31,260.17 L225.66,260.20 L226.01,260.23 L226.35,260.26 L226.70,260.30 L227.04,260.33 L227.38,260.36 L227.72,260.40 L228.05,260.44 L228.39,260.47 L228.71,260.51 L229.04,260.55 L229.36,260.59 L229.68,260.63 L229.99,260.67 L230.30,260.71 L230.60,260.76 L230.90,260.80 L231.20,260.85 L231.50,260.90 L231.80,260.95 L232.10,261.00 L232.40,261.06 L232.70,261.12 L233.00,261.18 L233.30,261.25 L233.60,261.31 L233.90,261.38 L234.19,261.44 L234.48,261.51 L234.77,261.58 L235.05,261.65 L235.33,261.71 L235.60,261.78 L235.87,261.84 L236.13,261.91 L236.38,261.97 L236.62,262.03 L236.86,262.09 L237.08,262.15 L237.30,262.21 L237.51,262.26 L237.70,262.31 L237.89,262.35 L238.06,262.40 L238.22,262.43 L238.37,262.47 L238.50,262.50" fill="none" stroke="#444" stroke-width="0.8"/><circle cx="136.50" cy="259.12" r="1.6" fill="#000"/><circle cx="137.54" cy="259.16" r="1.6" fill="#000"/><circle cx="138.61" cy="258.92" r="1.6" fill="#000"/><circle cx="139.65" cy="259.25" r="1.6" fill="#000"/><circle cx="140.74" cy="259.80" r="1.6" fill="#000"/><circle cx="141.77" cy="259.54" r="1.6" fill="#000"/><circle cx="142.79" cy="257.21" r="1.6" fill="#000"/><circle cx="144.61" cy="202.62" r="1.6" fill="#000"/><circle cx="145.64" cy="195.41" r="1.6" fill="#000"/><circle cx="146.64" cy="195.95" r="1.6" fill="#000"/><circle cx="147.68" cy="199.83" r="1.6" fill="#000"/><circle cx="148.70" cy="202.86" r="1.6" fill="#000"/><circle cx="149.76" cy="206.73" r="1.6" fill="#000"/><circle cx="150.83" cy="210.06" r="1.6" fill="#000"/><circle cx="151.83" cy="213.37" r="1.6" fill="#000"/><circle cx="152.84" cy="216.22" r="1.6" fill="#000"/><circle cx="153.89" cy="220.02" r="1.6" fill="#000"/><circle cx="154.92" cy="223.64" r="1.6" fill="#000"/><circle cx="155.96" cy="226.95" r="1.6" fill="#000"/><circle cx="157.00" cy="230.75" r="1.6" fill="#000"/><circle cx="158.04" cy="234.06" r="1.6" fill="#000"/><circle cx="159.10" cy="236.90" r="1.6" fill="#000"/><circle cx="160.11" cy="239.80" r="1.6" fill="#000"/><circle cx="161.14" cy="241.30" r="1.6" fill="#000"/><circle cx="162.17" cy="242.28" r="1.6" fill="#000"/><circle cx="163.19" cy="243.14" r="1.6" fill="#000"/><circle cx="164.26" cy="244.88" r="1.6" fill="#000"/><circle cx="165.32" cy="245.67" r="1.6" fill="#000"/><circle cx="166.41" cy="246.73" r="1.6" fill="#000"/><circle cx="167.42" cy="247.54" r="1.6" fill="#000"/><circle cx="168.51" cy="248.08" r="1.6" fill="#000"/><circle cx="169.57" cy="248.79" r="1.6" fill="#000"/><circle cx="170.60" cy="248.91" r="1.6" fill="#000"/><circle cx="171.74" cy="249.68" r="1.6" fill="#000"/><circle cx="172.76" cy="249.83" r="1.6" fill="#000"/><circle cx="173.81" cy="250.57" r="1.6" fill="#000"/><circle cx="174.83" cy="250.90" r="1.6" fill="#000"/><circle cx="175.83" cy="250.71" r="1.6" fill="#000"/><circle cx="176.83" cy="251.07" r="1.6" fill="#000"/><circle cx="177.83" cy="251.44" r="1.6" fill="#000"/><circle cx="178.83" cy="252.27" r="1.6" fill="#000"/><circle cx="179.83" cy="252.20" r="1.6" fill="#000"/><circle cx="180.83" cy="252.64" r="1.6" fill="#000"/><circle cx="181.83" cy="252.71" r="1.6" fill="#000"/><circle cx="182.83" cy="253.15" r="1.6" fill="#000"/><circle cx="183.83" cy="253.37" r="1.6" fill="#000"/><circle cx="184.83" cy="253.64" r="1.6" fill="#000"/><circle cx="185.83" cy="254.13" r="1.6" fill="#000"/><circle cx="186.83" cy="254.46" r="1.6" fill="#000"/><circle cx="187.83" cy="255.01" r="1.6" fill="#000"/><circle cx="188.83" cy="255.18" r="1.6" fill="#000"/><circle cx="189.83" cy="255.65" r="1.6" fill="#000"/><circle cx="190.99" cy="255.92" r="1.6" fill="#000"/><circle cx="192.13" cy="256.29" r="1.6" fill="#000"/><circle cx="193.29" cy="256.33" r="1.6" fill="#000"/><circle cx="194.30" cy="256.21" r="1.6" fill="#000"/><circle cx="195.35" cy="256.93" r="1.6" fill="#000"/><circle cx="196.49" cy="257.28" r="1.6" fill="#000"/><circle cx="197.65" cy="257.51" r="1.6" fill="#000"/><circle cx="198.77" cy="257.51" r="1.6" fill="#000"/><circle cx="199.86" cy="257.82" r="1.6" fill="#000"/><circle cx="200.87" cy="257.64" r="1.6" fill="#000"/><circle cx="202.02" cy="258.26" r="1.6" fill="#000"/><circle cx="203.30" cy="258.28" r="1.6" fill="#000"/><circle cx="204.32" cy="258.23" r="1.6" fill="#000"/><circle cx="205.37" cy="258.23" r="1.6" fill="#000"/><circle cx="206.44" cy="258.94" r="1.6" fill="#000"/><circle cx="207.53" cy="259.18" r="1.6" fill="#000"/><circle cx="208.61" cy="258.68" r="1.6" fill="#000"/><circle cx="209.67" cy="259.30" r="1.6" fill="#000"/><circle cx="210.70" cy="259.14" r="1.6" fill="#000"/><circle cx="211.71" cy="259.05" r="1.6" fill="#000"/><circle cx="212.72" cy="259.22" r="1.6" fill="#000"/><circle cx="213.73" cy="259.61" r="1.6" fill="#000"/><circle cx="214.74" cy="259.74" r="1.6" fill="#000"/><circle cx="215.75" cy="259.21" r="1.6" fill="#000"/><circle cx="216.76" cy="259.65" r="1.6" fill="#000"/><circle cx="217.77" cy="259.30" r="1.6" fill="#000"/><circle cx="218.78" cy="259.82" r="1.6" fill="#000"/><circle cx="219.79" cy="259.61" r="1.6" fill="#000"/><circle cx="220.80" cy="261.02" r="1.6" fill="#000"/><circle cx="221.82" cy="261.42" r="1.6" fill="#000"/><circle cx="222.86" cy="259.98" r="1.6" fill="#000"/><circle cx="223.91" cy="261.64" r="1.6" fill="#000"/><circle cx="224.96" cy="259.53" r="1.6" fill="#000"/><circle cx="226.01" cy="258.88" r="1.6" fill="#000"/><circle cx="227.04" cy="260.65" r="1.6" fill="#000"/><circle cx="228.05" cy="258.94" r="1.6" fill="#000"/><circle cx="229.36" cy="259.62" r="1.6" fill="#000"/><circle cx="230.60" cy="260.46" r="1.6" fill="#000"/><circle cx="231.80" cy="261.30" r="1.6" fill="#000"/><circle cx="233.00" cy="260.08" r="1.6" fill="#000"/><circle cx="234.19" cy="259.98" r="1.6" fill="#000"/><circle cx="235.33" cy="262.89" r="1.6" fill="#000"/><circle cx="236.38" cy="261.38" r="1.6" fill="#000"/><circle cx="237.51" cy="263.73" r="1.6" fill="#000"/><circle cx="143.30" cy="250.28" r="1.6" fill="#000"/><circle cx="142.80" cy="254.91" r="1.6" fill="#000"/>
<path d="M136.50,259.80 L136.54,259.80 L136.59,259.79 L136.65,259.79 L136.70,259.78 L136.76,259.77 L136.83,259.77 L136.90,259.76 L136.97,259.75 L137.04,259.74 L137.12,259.73 L137.20,259.72 L137.28,259.72 L137.37,259.71 L137.45,259.70 L137.54,259.69 L137.64,259.68 L137.73,259.67 L137.82,259.66 L137.92,259.65 L138.01,259.64 L138.11,259.64 L138.21,259.63 L138.31,259.62 L138.41,259.62 L138.51,259.61 L138.61,259.61 L138.71,259.60 L138.80,259.60 L138.90,259.60 L139.00,259.60 L139.10,259.61 L139.20,259.62 L139.31,259.65 L139.42,259.68 L139.53,259.73 L139.65,259.77 L139.76,259.83 L139.88,259.89 L140.00,259.95 L140.13,260.01 L140.25,260.07 L140.37,260.13 L140.50,260.19 L140.62,260.25 L140.74,260.30 L140.87,260.35 L140.99,260.39 L141.11,260.42 L141.23,260.45 L141.34,260.46 L141.45,260.46 L141.56,260.45 L141.67,260.43 L141.77,260.39 L141.87,260.34 L141.97,260.27 L142.06,260.18 L142.15,260.08 L142.23,259.95 L142.30,259.80 L142.37,259.63 L142.43,259.46 L142.50,259.27 L142.55,259.07 L142.61,258.86 L142.66,258.64 L142.71,258.41 L142.75,258.17 L142.79,257.92 L142.83,257.65 L142.87,257.38 L142.90,257.09 L142.93,256.79 L142.96,256.48 L142.99,256.16 L143.01,255.83 L143.04,255.49 L143.06,255.13 L143.08,254.77 L143.10,254.39 L143.12,254.00 L143.14,253.61 L143.16,253.19 L143.18,252.77 L143.20,252.34 L143.22,251.89 L143.24,251.44 L143.26,250.97 L143.28,250.49 L143.30,250.00 L143.32,249.49 L143.34,248.97 L143.36,248.43 L143.37,247.87 L143.39,247.30 L143.40,246.72 L143.41,246.12 L143.42,245.50 L143.43,244.88 L143.44,244.24 L143.44,243.59 L143.45,242.93 L143.46,242.26 L143.46,241.58 L143.47,240.89 L143.47,240.19 L143.48,239.49 L143.48,238.78 L143.49,238.06 L143.50,237.34 L143.50,236.62 L143.51,235.89 L143.52,235.15 L143.53,234.42 L143.53,233.68 L143.55,232.95 L143.56,232.21 L143.57,231.47 L143.58,230.73 L143.60,230.00 L143.62,229.25 L143.64,228.48 L143.65,227.68 L143.67,226.85 L143.69,226.01 L143.72,225.15 L143.74,224.28 L143.76,223.39 L143.78,222.50 L143.81,221.59 L143.83,220.69 L143.86,219.78 L143.88,218.87 L143.91,217.96 L143.93,217.06 L143.96,216.17 L143.98,215.29 L144.01,214.42 L144.03,213.57 L144.06,212.74 L144.08,211.93 L144.11,211.14 L144.14,210.38 L144.16,209.65 L144.18,208.95 L144.21,208.28 L144.23,207.65 L144.26,207.06 L144.28,206.51 L144.30,206.00 L144.32,205.54 L144.34,205.11 L144.36,204.71 L144.38,204.35 L144.40,204.02 L144.42,203.71 L144.44,203.44 L144.45,203.19 L144.47,202.96 L144.49,202.76 L144.51,202.58 L144.52,202.42 L144.54,202.27 L144.56,202.14 L144.57,202.03 L144.59,201.93 L144.61,201.84 L144.63,201.76 L144.65,201.69 L144.67,201.63 L144.69,201.57 L144.71,201.52 L144.73,201.46 L144.75,201.41 L144.77,201.35 L144.80,201.29 L144.82,201.23 L144.85,201.16 L144.87,201.09 L144.90,201.00 L144.93,200.91 L144.96,200.83 L144.99,200.75 L145.02,200.68 L145.05,200.62 L145.08,200.56 L145.12,200.51 L145.15,200.47 L145.19,200.42 L145.22,200.39 L145.26,200.36 L145.29,200.33 L145.33,200.31 L145.37,200.29 L145.41,200.28 L145.44,200.27 L145.48,200.27 L145.52,200.27 L145.56,200.27 L145.60,200.28 L145.64,200.29 L145.68,200.30 L145.72,200.32 L145.76,200.34 L145.80,200.36 L145.84,200.38 L145.88,200.41 L145.92,200.44 L145.96,200.47 L146.00,200.50 L146.04,200.53 L146.08,200.57 L146.12,200.60 L146.15,200.64 L146.19,200.67 L146.23,200.71 L146.27,200.75 L146.30,200.80 L146.34,200.84 L146.38,200.89 L146.42,200.94 L146.45,201.00 L146.49,201.06 L146.53,201.12 L146.57,201.19 L146.61,201.26 L146.65,201.34 L146.69,201.42 L146.73,201.51 L146.78,201.61 L146.82,201.71 L146.87,201.82 L146.92,201.94 L146.97,202.07 L147.02,202.20 L147.07,202.34 L147.12,202.49 L147.18,202.65 L147.24,202.82 L147.30,203.00 L147.36,203.19 L147.43,203.39 L147.50,203.61 L147.56,203.83 L147.64,204.07 L147.71,204.32 L147.78,204.58 L147.86,204.84 L147.94,205.12 L148.01,205.40 L148.09,205.68 L148.18,205.98 L148.26,206.28 L148.34,206.58 L148.43,206.89 L148.51,207.20 L148.59,207.51 L148.68,207.83 L148.77,208.14 L148.85,208.46 L148.94,208.78 L149.02,209.09 L149.11,209.41 L149.20,209.72 L149.28,210.03 L149.37,210.33 L149.45,210.63 L149.53,210.93 L149.62,211.22 L149.70,211.50 L149.78,211.78 L149.86,212.06 L149.94,212.33 L150.02,212.61 L150.10,212.88 L150.18,213.15 L150.26,213.42 L150.34,213.69 L150.42,213.96 L150.50,214.23 L150.58,214.50 L150.66,214.77 L150.74,215.04 L150.82,215.31 L150.90,215.57 L150.98,215.85 L151.06,216.12 L151.14,216.39 L151.23,216.66 L151.31,216.94 L151.40,217.21 L151.48,217.49 L151.57,217.77 L151.65,218.05 L151.74,218.34 L151.83,218.62 L151.92,218.91 L152.01,219.21 L152.11,219.50 L152.20,219.80 L152.30,220.10 L152.39,220.41 L152.49,220.72 L152.59,221.03 L152.69,221.34 L152.80,221.66 L152.90,221.98 L153.00,222.30 L153.11,222.63 L153.21,222.96 L153.32,223.28 L153.43,223.61 L153.54,223.94 L153.65,224.27 L153.76,224.61 L153.87,224.94 L153.98,225.27 L154.09,225.60 L154.20,225.94 L154.31,226.27 L154.42,226.60 L154.53,226.93 L154.64,227.26 L154.75,227.58 L154.86,227.91 L154.97,228.23 L155.08,228.55 L155.19,228.87 L155.29,229.19 L155.40,229.50 L155.51,229.81 L155.61,230.13 L155.72,230.44 L155.83,230.76 L155.94,231.08 L156.05,231.39 L156.16,231.71 L156.27,232.03 L156.39,232.35 L156.50,232.66 L156.61,232.98 L156.72,233.29 L156.83,233.61 L156.94,233.92 L157.05,234.23 L157.16,234.54 L157.27,234.85 L157.38,235.15 L157.49,235.45 L157.59,235.75 L157.70,236.04 L157.80,236.33 L157.91,236.62 L158.01,236.90 L158.11,237.18 L158.21,237.46 L158.31,237.72 L158.41,237.99 L158.51,238.25 L158.60,238.50 L158.69,238.75 L158.78,238.99 L158.87,239.22 L158.95,239.45 L159.03,239.67 L159.11,239.88 L159.18,240.10 L159.26,240.30 L159.33,240.50 L159.40,240.70 L159.47,240.90 L159.54,241.09 L159.61,241.28 L159.68,241.47 L159.75,241.66 L159.82,241.84 L159.89,242.02 L159.96,242.21 L160.04,242.39 L160.11,242.57 L160.19,242.76 L160.27,242.94 L160.35,243.13 L160.43,243.32 L160.52,243.51 L160.61,243.70 L160.70,243.89 L160.80,244.09 L160.90,244.29 L161.00,244.50 L161.11,244.71 L161.22,244.92 L161.33,245.14 L161.45,245.36 L161.56,245.58 L161.68,245.80 L161.80,246.03 L161.93,246.25 L162.05,246.48 L162.18,246.71 L162.31,246.94 L162.44,247.16 L162.57,247.39 L162.70,247.62 L162.84,247.85 L162.97,248.08 L163.11,248.30 L163.25,248.53 L163.39,248.75 L163.53,248.97 L163.68,249.19 L163.82,249.40 L163.96,249.62 L164.11,249.83 L164.26,250.03 L164.40,250.23 L164.55,250.43 L164.70,250.63 L164.85,250.82 L165.00,251.00 L165.15,251.18 L165.30,251.36 L165.46,251.53 L165.62,251.71 L165.78,251.88 L165.94,252.05 L166.10,252.21 L166.26,252.38 L166.43,252.54 L166.59,252.70 L166.76,252.85 L166.93,253.01 L167.10,253.16 L167.27,253.31 L167.44,253.46 L167.61,253.60 L167.78,253.74 L167.95,253.88 L168.12,254.02 L168.30,254.16 L168.47,254.29 L168.64,254.42 L168.81,254.55 L168.98,254.68 L169.16,254.81 L169.33,254.93 L169.50,255.05 L169.66,255.17 L169.83,255.29 L170.00,255.40 L170.17,255.51 L170.33,255.62 L170.50,255.72 L170.67,255.83 L170.83,255.92 L171.00,256.02 L171.17,256.11 L171.33,256.20 L171.50,256.29 L171.67,256.38 L171.83,256.46 L172.00,256.54 L172.17,256.62 L172.33,256.70 L172.50,256.78 L172.67,256.85 L172.83,256.92 L173.00,256.99 L173.17,257.06 L173.33,257.13 L173.50,257.20 L173.67,257.27 L173.83,257.34 L174.00,257.40 L174.17,257.47 L174.33,257.54 L174.50,257.60 L174.67,257.67 L174.83,257.73 L175.00,257.80 L175.17,257.87 L175.33,257.93 L175.50,257.99 L175.67,258.06 L175.83,258.12 L176.00,258.18 L176.17,258.24 L176.33,258.29 L176.50,258.35 L176.67,258.41 L176.83,258.46 L177.00,258.52 L177.17,258.57 L177.33,258.62 L177.50,258.68 L177.67,258.73 L177.83,258.78 L178.00,258.83 L178.17,258.88 L178.33,258.93 L178.50,258.97 L178.67,259.02 L178.83,259.07 L179.00,259.12 L179.17,259.17 L179.33,259.21 L179.50,259.26 L179.67,259.31 L179.83,259.35 L180.00,259.40 L180.17,259.45 L180.33,259.49 L180.50,259.54 L180.67,259.58 L180.83,259.63 L181.00,259.67 L181.17,259.72 L181.33,259.76 L181.50,259.80 L181.67,259.84 L181.83,259.89 L182.00,259.93 L182.17,259.97 L182.33,260.01 L182.50,260.05 L182.67,260.09 L182.83,260.13 L183.00,260.17 L183.17,260.21 L183.33,260.24 L183.50,260.28 L183.67,260.32 L183.83,260.36 L184.00,260.39 L184.17,260.43 L184.33,260.46 L184.50,260.50 L184.67,260.53 L184.83,260.57 L185.00,260.60 L185.17,260.63 L185.33,260.67 L185.50,260.70 L185.67,260.73 L185.83,260.76 L186.00,260.79 L186.17,260.82 L186.33,260.85 L186.50,260.88 L186.67,260.91 L186.83,260.94 L187.00,260.97 L187.17,261.00 L187.33,261.02 L187.50,261.05 L187.67,261.08 L187.83,261.10 L188.00,261.13 L188.17,261.15 L188.33,261.18 L188.50,261.20 L188.67,261.23 L188.83,261.25 L189.00,261.27 L189.17,261.29 L189.33,261.32 L189.50,261.34 L189.67,261.36 L189.83,261.38 L190.00,261.40 L190.17,261.42 L190.33,261.44 L190.50,261.46 L190.66,261.47 L190.83,261.49 L190.99,261.50 L191.15,261.52 L191.32,261.53 L191.48,261.54 L191.64,261.56 L191.81,261.57 L191.97,261.58 L192.13,261.59 L192.30,261.60 L192.46,261.61 L192.63,261.62 L192.79,261.63 L192.96,261.64 L193.12,261.66 L193.29,261.67 L193.46,261.68 L193.62,261.69 L193.79,261.70 L193.96,261.71 L194.13,261.73 L194.30,261.74 L194.48,261.75 L194.65,261.77 L194.82,261.78 L195.00,261.80 L195.17,261.82 L195.35,261.83 L195.52,261.85 L195.68,261.87 L195.85,261.89 L196.01,261.90 L196.17,261.92 L196.33,261.94 L196.49,261.96 L196.66,261.98 L196.82,262.00 L196.98,262.02 L197.15,262.04 L197.31,262.06 L197.48,262.07 L197.65,262.10 L197.83,262.12 L198.01,262.14 L198.19,262.16 L198.38,262.18 L198.57,262.20 L198.77,262.22 L198.97,262.24 L199.18,262.26 L199.40,262.29 L199.62,262.31 L199.86,262.33 L200.09,262.35 L200.34,262.38 L200.60,262.40 L200.87,262.42 L201.14,262.45 L201.43,262.47 L201.72,262.50 L202.02,262.53 L202.33,262.56 L202.65,262.59 L202.97,262.61 L203.30,262.64 L203.63,262.67 L203.97,262.70 L204.32,262.73 L204.66,262.76 L205.01,262.79 L205.37,262.82 L205.73,262.85 L206.08,262.88 L206.44,262.91 L206.81,262.94 L207.17,262.97 L207.53,263.00 L207.89,263.02 L208.25,263.05 L208.61,263.08 L208.96,263.10 L209.32,263.12 L209.67,263.14 L210.02,263.16 L210.36,263.18 L210.70,263.20 L211.04,263.22 L211.37,263.23 L211.71,263.25 L212.05,263.26 L212.38,263.27 L212.72,263.29 L213.06,263.30 L213.39,263.31 L213.73,263.32 L214.07,263.33 L214.40,263.34 L214.74,263.35 L215.08,263.36 L215.41,263.37 L215.75,263.38 L216.09,263.38 L216.42,263.39 L216.76,263.39 L217.10,263.40 L217.43,263.40 L217.77,263.40 L218.11,263.41 L218.44,263.41 L218.78,263.41 L219.12,263.41 L219.45,263.41 L219.79,263.41 L220.13,263.41 L220.46,263.40 L220.80,263.40 L221.14,263.40 L221.48,263.39 L221.82,263.38 L222.17,263.37 L222.51,263.36 L222.86,263.34 L223.21,263.33 L223.56,263.31 L223.91,263.30 L224.26,263.28 L224.61,263.26 L224.96,263.24 L225.31,263.22 L225.66,263.20 L226.01,263.18 L226.35,263.16 L226.70,263.14 L227.04,263.12 L227.38,263.11 L227.72,263.09 L228.05,263.07 L228.39,263.06 L228.71,263.04 L229.04,263.03 L229.36,263.02 L229.68,263.01 L229.99,263.01 L230.30,263.00 L230.60,263.00 L230.90,263.00 L231.20,263.00 L231.50,263.01 L231.80,263.02 L232.10,263.03 L232.40,263.04 L232.70,263.05 L233.00,263.07 L233.30,263.08 L233.60,263.10 L233.90,263.12 L234.19,263.14 L234.48,263.16 L234.77,263.18 L235.05,263.20 L235.33,263.23 L235.60,263.25 L235.87,263.27 L236.13,263.29 L236.38,263.32 L236.62,263.34 L236.86,263.36 L237.08,263.38 L237.30,263.40 L237.51,263.42 L237.70,263.44 L237.89,263.45 L238.06,263.47 L238.22,263.48 L238.37,263.49 L238.50,263.50" fill="none" stroke="#888" stroke-width="1"/><circle cx="136.50" cy="259.62" r="1.6" fill="#606060"/><circle cx="137.54" cy="259.41" r="1.6" fill="#606060"/><circle cx="138.61" cy="259.54" r="1.6" fill="#606060"/><circle cx="139.65" cy="259.53" r="1.6" fill="#606060"/><circle cx="140.74" cy="260.00" r="1.6" fill="#606060"/><circle cx="141.77" cy="260.32" r="1.6" fill="#606060"/><circle cx="142.79" cy="258.21" r="1.6" fill="#606060"/><circle cx="144.61" cy="202.05" r="1.6" fill="#606060"/><circle cx="145.64" cy="200.47" r="1.6" fill="#606060"/><circle cx="146.65" cy="201.14" r="1.6" fill="#606060"/><circle cx="147.71" cy="204.34" r="1.6" fill="#606060"/><circle cx="148.77" cy="207.99" r="1.6" fill="#606060"/><circle cx="149.78" cy="211.55" r="1.6" fill="#606060"/><circle cx="150.82" cy="215.03" r="1.6" fill="#606060"/><circle cx="151.83" cy="218.42" r="1.6" fill="#606060"/><circle cx="152.90" cy="222.28" r="1.6" fill="#606060"/><circle cx="153.98" cy="225.50" r="1.6" fill="#606060"/><circle cx="155.08" cy="228.77" r="1.6" fill="#606060"/><circle cx="156.16" cy="231.92" r="1.6" fill="#606060"/><circle cx="157.27" cy="234.63" r="1.6" fill="#606060"/><circle cx="158.31" cy="237.59" r="1.6" fill="#606060"/><circle cx="159.33" cy="240.59" r="1.6" fill="#606060"/><circle cx="160.35" cy="243.29" r="1.6" fill="#606060"/><circle cx="161.45" cy="245.61" r="1.6" fill="#606060"/><circle cx="162.57" cy="247.66" r="1.6" fill="#606060"/><circle cx="163.68" cy="248.90" r="1.6" fill="#606060"/><circle cx="164.70" cy="250.70" r="1.6" fill="#606060"/><circle cx="165.78" cy="252.00" r="1.6" fill="#606060"/><circle cx="166.93" cy="253.01" r="1.6" fill="#606060"/><circle cx="167.95" cy="253.66" r="1.6" fill="#606060"/><circle cx="168.98" cy="254.66" r="1.6" fill="#606060"/><circle cx="170.00" cy="255.11" r="1.6" fill="#606060"/><circle cx="171.00" cy="256.33" r="1.6" fill="#606060"/><circle cx="172.00" cy="256.80" r="1.6" fill="#606060"/><circle cx="173.00" cy="257.03" r="1.6" fill="#606060"/><circle cx="174.00" cy="257.26" r="1.6" fill="#606060"/><circle cx="175.00" cy="258.09" r="1.6" fill="#606060"/><circle cx="176.00" cy="258.23" r="1.6" fill="#606060"/><circle cx="177.00" cy="258.78" r="1.6" fill="#606060"/><circle cx="178.00" cy="259.07" r="1.6" fill="#606060"/><circle cx="179.00" cy="259.12" r="1.6" fill="#606060"/><circle cx="180.00" cy="259.34" r="1.6" fill="#606060"/><circle cx="181.00" cy="259.74" r="1.6" fill="#606060"/><circle cx="182.00" cy="259.88" r="1.6" fill="#606060"/><circle cx="183.00" cy="259.93" r="1.6" fill="#606060"/><circle cx="184.00" cy="260.26" r="1.6" fill="#606060"/><circle cx="185.00" cy="260.82" r="1.6" fill="#606060"/><circle cx="186.00" cy="260.47" r="1.6" fill="#606060"/><circle cx="187.00" cy="260.65" r="1.6" fill="#606060"/><circle cx="188.00" cy="261.22" r="1.6" fill="#606060"/><circle cx="189.00" cy="261.12" r="1.6" fill="#606060"/><circle cx="190.00" cy="261.42" r="1.6" fill="#606060"/><circle cx="191.15" cy="261.50" r="1.6" fill="#606060"/><circle cx="192.30" cy="261.49" r="1.6" fill="#606060"/><circle cx="193.46" cy="262.03" r="1.6" fill="#606060"/><circle cx="194.48" cy="261.54" r="1.6" fill="#606060"/><circle cx="195.52" cy="261.79" r="1.6" fill="#606060"/><circle cx="196.66" cy="261.77" r="1.6" fill="#606060"/><circle cx="197.83" cy="262.21" r="1.6" fill="#606060"/><circle cx="198.97" cy="262.09" r="1.6" fill="#606060"/><circle cx="200.09" cy="262.25" r="1.6" fill="#606060"/><circle cx="201.14" cy="262.62" r="1.6" fill="#606060"/><circle cx="202.33" cy="262.43" r="1.6" fill="#606060"/><circle cx="203.63" cy="262.72" r="1.6" fill="#606060"/><circle cx="204.66" cy="263.05" r="1.6" fill="#606060"/><circle cx="205.73" cy="262.58" r="1.6" fill="#606060"/><circle cx="206.81" cy="262.64" r="1.6" fill="#606060"/><circle cx="207.89" cy="262.83" r="1.6" fill="#606060"/><circle cx="208.96" cy="263.28" r="1.6" fill="#606060"/><circle cx="210.02" cy="263.24" r="1.6" fill="#606060"/><circle cx="211.04" cy="263.03" r="1.6" fill="#606060"/><circle cx="212.05" cy="263.14" r="1.6" fill="#606060"/><circle cx="213.06" cy="263.07" r="1.6" fill="#606060"/><circle cx="214.07" cy="263.30" r="1.6" fill="#606060"/><circle cx="215.08" cy="263.04" r="1.6" fill="#606060"/><circle cx="216.09" cy="263.52" r="1.6" fill="#606060"/><circle cx="217.10" cy="263.67" r="1.6" fill="#606060"/><circle cx="218.11" cy="263.72" r="1.6" fill="#606060"/><circle cx="219.12" cy="263.57" r="1.6" fill="#606060"/><circle cx="220.13" cy="264.88" r="1.6" fill="#606060"/><circle cx="221.14" cy="261.85" r="1.6" fill="#606060"/><circle cx="222.17" cy="262.69" r="1.6" fill="#606060"/><circle cx="223.21" cy="264.82" r="1.6" fill="#606060"/><circle cx="224.26" cy="264.16" r="1.6" fill="#606060"/><circle cx="225.31" cy="262.93" r="1.6" fill="#606060"/><circle cx="226.35" cy="264.58" r="1.6" fill="#606060"/><circle cx="227.38" cy="263.49" r="1.6" fill="#606060"/><circle cx="228.39" cy="264.08" r="1.6" fill="#606060"/><circle cx="229.68" cy="262.35" r="1.6" fill="#606060"/><circle cx="230.90" cy="262.01" r="1.6" fill="#606060"/><circle cx="232.10" cy="262.85" r="1.6" fill="#606060"/><circle cx="233.30" cy="261.92" r="1.6" fill="#606060"/><circle cx="234.48" cy="262.78" r="1.6" fill="#606060"/><circle cx="235.60" cy="264.73" r="1.6" fill="#606060"/><circle cx="236.62" cy="262.80" r="1.6" fill="#606060"/><circle cx="237.70" cy="261.87" r="1.6" fill="#606060"/>
<line x1="186.2" y1="212.5" x2="204.6" y2="212.5" stroke="#222" stroke-width="0.8"/>
<circle cx="195.4" cy="212.5" r="1.6" fill="#000"/>
<text transform="translate(207.7,215.6) scale(1,1.22)" font-size="8">- PSB-12062</text>
<line x1="186.2" y1="222.6" x2="204.6" y2="222.6" stroke="#888" stroke-width="0.8"/>
<circle cx="195.4" cy="222.6" r="1.5" fill="#666"/>
<text transform="translate(208.5,225.6) scale(1,1.22)" font-size="8">+ PSB-12062</text>
<text transform="translate(86.2,257) scale(1,1.22)" font-size="8">Calcium</text>
<text transform="translate(86.2,266.5) scale(1,1.22)" font-size="8">(25% Peak)</text>
<line x1="130.5" y1="251.9" x2="130.5" y2="268.9" stroke="#444" stroke-width="1"/>
<line x1="129.5" y1="268.5" x2="147.7" y2="268.5" stroke="#444" stroke-width="1"/>
<text transform="translate(133,276.8) scale(1,1.22)" font-size="8">50 s</text>
<text transform="translate(266.5,171.7) scale(1,1.12)" font-size="15">D</text>
<line x1="316.7" y1="170" x2="316.7" y2="266" stroke="#6a6a6a" stroke-width="1.4"/>
<line x1="314" y1="265.5" x2="316.5" y2="265.5" stroke="#444" stroke-width="1"/>
<text transform="translate(313.8,268.79999999999995) scale(1,1.12)" font-size="8.2" text-anchor="end">0</text>
<line x1="314" y1="227.5" x2="316.5" y2="227.5" stroke="#444" stroke-width="1"/>
<text transform="translate(313.8,230.1) scale(1,1.12)" font-size="8.2" text-anchor="end">50</text>
<line x1="314" y1="188.5" x2="316.5" y2="188.5" stroke="#444" stroke-width="1"/>
<text transform="translate(313.8,191.5) scale(1,1.12)" font-size="8.2" text-anchor="end">100</text>
<line x1="315" y1="246.5" x2="316.5" y2="246.5" stroke="#444" stroke-width="1"/>
<line x1="315" y1="207.5" x2="316.5" y2="207.5" stroke="#444" stroke-width="1"/>
<line x1="316.5" y1="265.5" x2="436.7" y2="265.5" stroke="#444" stroke-width="1"/>
<rect x="322.6" y="188.7" width="47.60" height="77.20" fill="#000"/>
<rect x="382.80" y="245.00" width="47.40" height="20.40" fill="#555" stroke="#222" stroke-width="1"/>
<line x1="346.5" y1="175" x2="346.5" y2="188.7" stroke="#333" stroke-width="1"/>
<line x1="345.5" y1="175.5" x2="347.7" y2="175.5" stroke="#222" stroke-width="1"/>
<line x1="406.5" y1="241.8" x2="406.5" y2="247.2" stroke="#222" stroke-width="1"/>
<line x1="404.8" y1="241.5" x2="407.8" y2="241.5" stroke="#222" stroke-width="1"/>
<line x1="404.8" y1="247.5" x2="407.8" y2="247.5" stroke="#222" stroke-width="1"/>
<line x1="346.2" y1="171.5" x2="408.3" y2="171.5" stroke="#444" stroke-width="1"/>
<polygon points="375.40,163.65 376.09,165.30 377.87,165.44 376.51,166.61 376.93,168.35 375.40,167.42 373.87,168.35 374.29,166.61 372.93,165.44 374.71,165.30" fill="#111"/>
<polygon points="381.30,163.65 381.99,165.30 383.77,165.44 382.41,166.61 382.83,168.35 381.30,167.42 379.77,168.35 380.19,166.61 378.83,165.44 380.61,165.30" fill="#111"/>
<text transform="translate(322.5,276) scale(1,1.12)" font-size="8.5">- PSB-12062</text>
<text transform="translate(380.2,276) scale(1,1.12)" font-size="8.5">+ PSB-12062</text>
<line x1="346.2" y1="279.5" x2="408.3" y2="279.5" stroke="#444" stroke-width="1"/>
<text transform="translate(353.6,289.5) scale(1,1.02)" font-size="8.6">100 μM ATP</text>
<text transform="translate(287.6,218.2) rotate(-90) scale(1,1.13)" font-size="8.3" text-anchor="middle" style="stroke-width:0.12px;fill:#222;stroke:#222">% Net Calcium Movement</text>
<text transform="translate(298,218.4) rotate(-90) scale(1,1.13)" font-size="8.3" text-anchor="middle" style="stroke-width:0.12px;fill:#222;stroke:#222">(normalised to ATP response)</text>
<text transform="translate(9.6,333.8) scale(1,1.12)" font-size="15">E</text>
<text transform="translate(86.2,341.6) scale(1,1.1)" font-size="8.5">100 μM ATP</text>
<line x1="66.2" y1="344.5" x2="148.8" y2="344.5" stroke="#444" stroke-width="1"/>
<path d="M57.60,429.00 L57.64,429.01 L57.69,429.02 L57.74,429.03 L57.80,429.05 L57.85,429.07 L57.92,429.08 L57.98,429.10 L58.05,429.12 L58.12,429.14 L58.20,429.17 L58.28,429.19 L58.36,429.21 L58.44,429.24 L58.53,429.26 L58.61,429.28 L58.70,429.30 L58.79,429.33 L58.88,429.35 L58.97,429.37 L59.07,429.39 L59.16,429.41 L59.25,429.43 L59.35,429.44 L59.44,429.46 L59.54,429.47 L59.63,429.48 L59.72,429.49 L59.82,429.49 L59.91,429.50 L60.00,429.50 L60.09,429.50 L60.19,429.50 L60.28,429.49 L60.38,429.49 L60.48,429.48 L60.59,429.47 L60.69,429.46 L60.80,429.45 L60.90,429.44 L61.01,429.43 L61.12,429.41 L61.23,429.40 L61.34,429.38 L61.45,429.36 L61.56,429.34 L61.66,429.32 L61.77,429.30 L61.88,429.28 L61.98,429.26 L62.09,429.24 L62.19,429.22 L62.29,429.20 L62.39,429.17 L62.49,429.15 L62.58,429.12 L62.67,429.10 L62.76,429.07 L62.84,429.05 L62.92,429.02 L63.00,429.00 L63.07,428.98 L63.15,428.98 L63.21,428.99 L63.28,429.01 L63.34,429.04 L63.41,429.08 L63.47,429.12 L63.53,429.17 L63.58,429.22 L63.64,429.27 L63.69,429.33 L63.74,429.38 L63.79,429.42 L63.84,429.46 L63.89,429.49 L63.93,429.52 L63.98,429.53 L64.02,429.53 L64.07,429.52 L64.11,429.49 L64.15,429.45 L64.19,429.38 L64.23,429.30 L64.27,429.19 L64.31,429.06 L64.35,428.91 L64.39,428.73 L64.42,428.51 L64.46,428.27 L64.50,428.00 L64.54,427.70 L64.57,427.37 L64.61,427.03 L64.64,426.66 L64.67,426.28 L64.70,425.87 L64.73,425.44 L64.75,425.00 L64.78,424.53 L64.80,424.05 L64.83,423.55 L64.85,423.04 L64.87,422.51 L64.90,421.96 L64.92,421.40 L64.94,420.82 L64.96,420.24 L64.98,419.63 L65.01,419.02 L65.03,418.39 L65.05,417.75 L65.08,417.11 L65.10,416.45 L65.13,415.78 L65.15,415.10 L65.18,414.42 L65.21,413.72 L65.24,413.02 L65.27,412.31 L65.30,411.60 L65.33,410.86 L65.37,410.09 L65.41,409.29 L65.44,408.46 L65.48,407.59 L65.52,406.71 L65.57,405.80 L65.61,404.87 L65.65,403.93 L65.69,402.97 L65.74,402.00 L65.78,401.02 L65.82,400.03 L65.87,399.04 L65.91,398.06 L65.96,397.07 L66.00,396.09 L66.04,395.11 L66.09,394.15 L66.13,393.20 L66.17,392.26 L66.21,391.35 L66.25,390.45 L66.29,389.58 L66.33,388.74 L66.37,387.92 L66.40,387.13 L66.44,386.39 L66.47,385.67 L66.50,385.00 L66.53,384.36 L66.56,383.75 L66.58,383.17 L66.61,382.61 L66.64,382.08 L66.66,381.57 L66.68,381.07 L66.71,380.60 L66.73,380.15 L66.75,379.71 L66.77,379.29 L66.79,378.89 L66.81,378.50 L66.83,378.11 L66.84,377.74 L66.86,377.38 L66.88,377.03 L66.90,376.68 L66.91,376.34 L66.93,376.00 L66.95,375.66 L66.96,375.32 L66.98,374.99 L67.00,374.65 L67.01,374.30 L67.03,373.96 L67.05,373.61 L67.06,373.25 L67.08,372.88 L67.10,372.50 L67.12,372.12 L67.14,371.73 L67.15,371.34 L67.17,370.95 L67.19,370.56 L67.20,370.18 L67.22,369.79 L67.24,369.40 L67.25,369.01 L67.27,368.63 L67.29,368.25 L67.30,367.87 L67.32,367.49 L67.33,367.12 L67.35,366.75 L67.37,366.39 L67.38,366.03 L67.40,365.67 L67.41,365.32 L67.43,364.98 L67.45,364.65 L67.46,364.32 L67.48,364.00 L67.50,363.68 L67.51,363.38 L67.53,363.08 L67.55,362.80 L67.56,362.52 L67.58,362.26 L67.60,362.00 L67.62,361.75 L67.64,361.50 L67.66,361.25 L67.67,361.01 L67.69,360.76 L67.71,360.52 L67.73,360.29 L67.75,360.06 L67.77,359.83 L67.79,359.61 L67.80,359.40 L67.82,359.19 L67.84,358.99 L67.86,358.80 L67.88,358.62 L67.90,358.46 L67.92,358.30 L67.94,358.15 L67.96,358.01 L67.98,357.89 L68.00,357.78 L68.02,357.68 L68.04,357.60 L68.07,357.54 L68.09,357.49 L68.11,357.45 L68.13,357.44 L68.15,357.44 L68.18,357.46 L68.20,357.50 L68.22,357.56 L68.25,357.64 L68.27,357.74 L68.29,357.85 L68.31,357.98 L68.34,358.13 L68.36,358.29 L68.38,358.47 L68.41,358.67 L68.43,358.87 L68.45,359.10 L68.48,359.33 L68.50,359.57 L68.53,359.83 L68.55,360.10 L68.58,360.38 L68.60,360.67 L68.63,360.96 L68.65,361.27 L68.68,361.58 L68.71,361.90 L68.74,362.23 L68.77,362.56 L68.80,362.90 L68.83,363.24 L68.86,363.59 L68.89,363.94 L68.93,364.29 L68.96,364.64 L69.00,365.00 L69.04,365.37 L69.08,365.75 L69.11,366.15 L69.15,366.57 L69.19,367.00 L69.24,367.45 L69.28,367.90 L69.32,368.37 L69.36,368.85 L69.41,369.34 L69.45,369.83 L69.50,370.33 L69.54,370.83 L69.59,371.34 L69.64,371.85 L69.69,372.36 L69.73,372.87 L69.78,373.38 L69.83,373.88 L69.88,374.39 L69.93,374.88 L69.98,375.37 L70.03,375.85 L70.08,376.32 L70.14,376.79 L70.19,377.24 L70.24,377.68 L70.29,378.10 L70.35,378.51 L70.40,378.90 L70.45,379.28 L70.51,379.65 L70.56,380.00 L70.62,380.35 L70.68,380.70 L70.73,381.03 L70.79,381.35 L70.85,381.67 L70.91,381.99 L70.97,382.29 L71.03,382.59 L71.09,382.89 L71.15,383.18 L71.21,383.47 L71.28,383.76 L71.34,384.04 L71.40,384.32 L71.46,384.60 L71.52,384.88 L71.59,385.15 L71.65,385.43 L71.71,385.71 L71.77,385.98 L71.83,386.26 L71.90,386.54 L71.96,386.83 L72.02,387.12 L72.08,387.41 L72.14,387.70 L72.20,388.00 L72.26,388.30 L72.32,388.61 L72.38,388.91 L72.44,389.22 L72.50,389.52 L72.56,389.83 L72.62,390.14 L72.68,390.45 L72.74,390.76 L72.80,391.07 L72.86,391.38 L72.92,391.68 L72.98,391.99 L73.04,392.30 L73.10,392.61 L73.16,392.91 L73.22,393.22 L73.28,393.52 L73.34,393.82 L73.40,394.12 L73.46,394.42 L73.52,394.72 L73.58,395.01 L73.64,395.30 L73.70,395.59 L73.76,395.88 L73.82,396.17 L73.88,396.45 L73.94,396.72 L74.00,397.00 L74.06,397.27 L74.12,397.54 L74.18,397.81 L74.24,398.07 L74.30,398.33 L74.36,398.59 L74.42,398.84 L74.48,399.09 L74.54,399.34 L74.60,399.59 L74.66,399.84 L74.72,400.08 L74.78,400.33 L74.84,400.57 L74.90,400.81 L74.96,401.05 L75.02,401.29 L75.08,401.53 L75.14,401.77 L75.20,402.01 L75.26,402.25 L75.32,402.48 L75.38,402.72 L75.44,402.96 L75.50,403.20 L75.56,403.44 L75.62,403.68 L75.68,403.92 L75.74,404.16 L75.80,404.40 L75.86,404.64 L75.92,404.89 L75.98,405.13 L76.04,405.37 L76.10,405.61 L76.16,405.85 L76.22,406.09 L76.28,406.33 L76.34,406.57 L76.40,406.81 L76.46,407.05 L76.52,407.29 L76.57,407.53 L76.63,407.77 L76.69,408.01 L76.75,408.24 L76.81,408.48 L76.87,408.72 L76.93,408.96 L76.99,409.20 L77.05,409.44 L77.11,409.68 L77.17,409.92 L77.23,410.16 L77.29,410.40 L77.35,410.64 L77.42,410.88 L77.48,411.12 L77.54,411.36 L77.60,411.60 L77.66,411.84 L77.72,412.09 L77.78,412.33 L77.84,412.58 L77.90,412.83 L77.96,413.08 L78.02,413.33 L78.08,413.59 L78.14,413.84 L78.20,414.09 L78.26,414.35 L78.31,414.60 L78.37,414.85 L78.43,415.10 L78.49,415.36 L78.55,415.61 L78.62,415.86 L78.68,416.10 L78.74,416.35 L78.80,416.60 L78.87,416.84 L78.93,417.08 L79.00,417.32 L79.07,417.55 L79.14,417.79 L79.21,418.02 L79.28,418.24 L79.35,418.47 L79.42,418.68 L79.50,418.90 L79.58,419.11 L79.65,419.32 L79.73,419.53 L79.81,419.74 L79.88,419.94 L79.96,420.15 L80.04,420.35 L80.12,420.55 L80.19,420.74 L80.27,420.94 L80.35,421.13 L80.44,421.32 L80.52,421.51 L80.60,421.70 L80.69,421.88 L80.77,422.06 L80.86,422.24 L80.95,422.42 L81.04,422.60 L81.14,422.77 L81.23,422.95 L81.33,423.12 L81.43,423.28 L81.53,423.45 L81.64,423.61 L81.74,423.78 L81.85,423.94 L81.97,424.09 L82.08,424.25 L82.20,424.40 L82.32,424.55 L82.45,424.70 L82.58,424.85 L82.71,424.99 L82.85,425.14 L82.99,425.28 L83.13,425.42 L83.28,425.56 L83.43,425.69 L83.58,425.83 L83.73,425.96 L83.89,426.09 L84.05,426.21 L84.20,426.34 L84.36,426.46 L84.52,426.58 L84.68,426.70 L84.84,426.82 L85.00,426.93 L85.16,427.04 L85.32,427.15 L85.48,427.25 L85.64,427.36 L85.80,427.46 L85.95,427.56 L86.11,427.65 L86.26,427.74 L86.41,427.83 L86.56,427.92 L86.70,428.00 L86.84,428.08 L86.97,428.16 L87.10,428.23 L87.23,428.29 L87.35,428.36 L87.46,428.42 L87.58,428.48 L87.69,428.53 L87.80,428.58 L87.91,428.63 L88.02,428.68 L88.12,428.72 L88.23,428.77 L88.34,428.81 L88.46,428.84 L88.57,428.88 L88.69,428.91 L88.81,428.95 L88.94,428.98 L89.07,429.01 L89.21,429.04 L89.35,429.07 L89.50,429.10 L89.66,429.13 L89.83,429.16 L90.00,429.18 L90.19,429.21 L90.38,429.24 L90.58,429.27 L90.80,429.30 L91.03,429.33 L91.26,429.36 L91.51,429.38 L91.77,429.40 L92.03,429.43 L92.30,429.45 L92.58,429.47 L92.87,429.48 L93.16,429.50 L93.46,429.51 L93.76,429.53 L94.07,429.54 L94.39,429.56 L94.71,429.57 L95.03,429.58 L95.36,429.59 L95.69,429.61 L96.02,429.62 L96.35,429.63 L96.69,429.64 L97.02,429.65 L97.36,429.67 L97.69,429.68 L98.03,429.69 L98.36,429.71 L98.69,429.72 L99.02,429.74 L99.35,429.76 L99.68,429.78 L100.00,429.80 L100.32,429.82 L100.64,429.84 L100.97,429.87 L101.29,429.89 L101.62,429.91 L101.95,429.94 L102.28,429.96 L102.61,429.99 L102.94,430.01 L103.27,430.04 L103.61,430.07 L103.94,430.09 L104.28,430.12 L104.61,430.15 L104.95,430.18 L105.29,430.20 L105.62,430.23 L105.96,430.26 L106.30,430.29 L106.64,430.31 L106.97,430.34 L107.31,430.37 L107.65,430.40 L107.99,430.43 L108.32,430.46 L108.66,430.49 L109.00,430.51 L109.33,430.54 L109.67,430.57 L110.00,430.60 L110.33,430.63 L110.67,430.66 L111.00,430.69 L111.33,430.72 L111.67,430.75 L112.00,430.78 L112.33,430.81 L112.67,430.84 L113.00,430.88 L113.33,430.91 L113.67,430.94 L114.00,430.97 L114.33,431.00 L114.67,431.04 L115.00,431.07 L115.33,431.10 L115.67,431.13 L116.00,431.16 L116.33,431.20 L116.67,431.23 L117.00,431.26 L117.33,431.29 L117.67,431.32 L118.00,431.34 L118.33,431.37 L118.67,431.40 L119.00,431.43 L119.33,431.45 L119.67,431.48 L120.00,431.50 L120.33,431.52 L120.67,431.55 L121.00,431.57 L121.33,431.59 L121.67,431.61 L122.00,431.63 L122.33,431.65 L122.67,431.67 L123.00,431.69 L123.33,431.71 L123.67,431.73 L124.00,431.74 L124.33,431.76 L124.67,431.78 L125.00,431.79 L125.33,431.81 L125.67,431.83 L126.00,431.84 L126.33,431.86 L126.67,431.87 L127.00,431.88 L127.33,431.90 L127.67,431.91 L128.00,431.93 L128.33,431.94 L128.67,431.95 L129.00,431.96 L129.33,431.98 L129.67,431.99 L130.00,432.00 L130.33,432.01 L130.67,432.02 L131.01,432.03 L131.36,432.04 L131.70,432.05 L132.05,432.06 L132.40,432.07 L132.74,432.08 L133.09,432.09 L133.44,432.10 L133.79,432.10 L134.14,432.11 L134.49,432.12 L134.84,432.12 L135.19,432.13 L135.53,432.14 L135.88,432.14 L136.22,432.15 L136.55,432.15 L136.89,432.16 L137.22,432.16 L137.55,432.17 L137.87,432.17 L138.19,432.18 L138.51,432.18 L138.82,432.19 L139.12,432.19 L139.42,432.19 L139.71,432.20 L140.00,432.20 L140.28,432.20 L140.57,432.21 L140.85,432.21 L141.14,432.21 L141.42,432.21 L141.70,432.21 L141.99,432.21 L142.26,432.21 L142.54,432.21 L142.81,432.21 L143.09,432.21 L143.35,432.21 L143.61,432.21 L143.87,432.21 L144.12,432.21 L144.37,432.21 L144.61,432.21 L144.85,432.21 L145.08,432.21 L145.30,432.21 L145.51,432.21 L145.71,432.21 L145.91,432.20 L146.10,432.20 L146.27,432.20 L146.44,432.20 L146.60,432.20 L146.74,432.20 L146.88,432.20 L147.00,432.20" fill="none" stroke="#888" stroke-width="1"/><circle cx="57.60" cy="429.09" r="1.5" fill="#606060"/><circle cx="58.70" cy="429.47" r="1.5" fill="#606060"/><circle cx="59.82" cy="429.70" r="1.5" fill="#606060"/><circle cx="61.01" cy="429.74" r="1.5" fill="#606060"/><circle cx="62.19" cy="429.39" r="1.5" fill="#606060"/><circle cx="63.34" cy="429.34" r="1.5" fill="#606060"/><circle cx="64.46" cy="427.94" r="1.5" fill="#606060"/><circle cx="67.41" cy="365.30" r="1.5" fill="#606060"/><circle cx="68.53" cy="360.14" r="1.5" fill="#606060"/><circle cx="69.64" cy="371.95" r="1.5" fill="#606060"/><circle cx="70.79" cy="381.64" r="1.5" fill="#606060"/><circle cx="71.90" cy="386.27" r="1.5" fill="#606060"/><circle cx="73.04" cy="392.28" r="1.5" fill="#606060"/><circle cx="74.18" cy="397.63" r="1.5" fill="#606060"/><circle cx="75.32" cy="402.51" r="1.5" fill="#606060"/><circle cx="76.46" cy="407.10" r="1.5" fill="#606060"/><circle cx="77.60" cy="411.26" r="1.5" fill="#606060"/><circle cx="78.74" cy="416.15" r="1.5" fill="#606060"/><circle cx="79.88" cy="419.79" r="1.5" fill="#606060"/><circle cx="81.04" cy="422.89" r="1.5" fill="#606060"/><circle cx="82.20" cy="424.59" r="1.5" fill="#606060"/><circle cx="83.43" cy="425.45" r="1.5" fill="#606060"/><circle cx="84.68" cy="426.91" r="1.5" fill="#606060"/><circle cx="85.80" cy="426.95" r="1.5" fill="#606060"/><circle cx="86.97" cy="428.32" r="1.5" fill="#606060"/><circle cx="88.12" cy="428.20" r="1.5" fill="#606060"/><circle cx="89.35" cy="428.37" r="1.5" fill="#606060"/><circle cx="90.58" cy="429.79" r="1.5" fill="#606060"/><circle cx="91.77" cy="429.00" r="1.5" fill="#606060"/><circle cx="92.87" cy="429.08" r="1.5" fill="#606060"/><circle cx="94.07" cy="430.22" r="1.5" fill="#606060"/><circle cx="95.36" cy="430.11" r="1.5" fill="#606060"/><circle cx="96.69" cy="429.35" r="1.5" fill="#606060"/><circle cx="98.03" cy="430.34" r="1.5" fill="#606060"/><circle cx="99.35" cy="429.81" r="1.5" fill="#606060"/><circle cx="100.64" cy="430.09" r="1.5" fill="#606060"/><circle cx="101.95" cy="429.53" r="1.5" fill="#606060"/><circle cx="103.27" cy="430.66" r="1.5" fill="#606060"/><circle cx="104.61" cy="430.41" r="1.5" fill="#606060"/><circle cx="105.96" cy="430.91" r="1.5" fill="#606060"/><circle cx="107.31" cy="430.92" r="1.5" fill="#606060"/><circle cx="108.66" cy="430.20" r="1.5" fill="#606060"/><circle cx="110.00" cy="430.41" r="1.5" fill="#606060"/><circle cx="111.33" cy="430.25" r="1.5" fill="#606060"/><circle cx="112.67" cy="430.35" r="1.5" fill="#606060"/><circle cx="114.00" cy="430.36" r="1.5" fill="#606060"/><circle cx="115.33" cy="430.82" r="1.5" fill="#606060"/><circle cx="116.67" cy="431.37" r="1.5" fill="#606060"/><circle cx="118.00" cy="430.65" r="1.5" fill="#606060"/><circle cx="119.33" cy="431.70" r="1.5" fill="#606060"/><circle cx="120.67" cy="431.32" r="1.5" fill="#606060"/><circle cx="122.00" cy="431.36" r="1.5" fill="#606060"/><circle cx="123.33" cy="432.15" r="1.5" fill="#606060"/><circle cx="124.67" cy="431.75" r="1.5" fill="#606060"/><circle cx="126.00" cy="431.58" r="1.5" fill="#606060"/><circle cx="127.33" cy="431.87" r="1.5" fill="#606060"/><circle cx="128.67" cy="432.24" r="1.5" fill="#606060"/><circle cx="130.00" cy="431.38" r="1.5" fill="#606060"/><circle cx="131.36" cy="432.71" r="1.5" fill="#606060"/><circle cx="132.74" cy="431.41" r="1.5" fill="#606060"/><circle cx="134.14" cy="432.46" r="1.5" fill="#606060"/><circle cx="135.53" cy="432.62" r="1.5" fill="#606060"/><circle cx="136.89" cy="431.48" r="1.5" fill="#606060"/><circle cx="138.19" cy="432.58" r="1.5" fill="#606060"/><circle cx="139.42" cy="432.01" r="1.5" fill="#606060"/><circle cx="140.57" cy="432.32" r="1.5" fill="#606060"/><circle cx="141.70" cy="431.53" r="1.5" fill="#606060"/><circle cx="142.81" cy="431.58" r="1.5" fill="#606060"/><circle cx="144.12" cy="431.77" r="1.5" fill="#606060"/><circle cx="145.30" cy="432.84" r="1.5" fill="#606060"/><circle cx="146.44" cy="431.78" r="1.5" fill="#606060"/><circle cx="65.30" cy="411.78" r="1.5" fill="#606060"/><circle cx="65.50" cy="405.30" r="1.5" fill="#606060"/><circle cx="67.10" cy="372.81" r="1.5" fill="#606060"/><circle cx="67.00" cy="363.89" r="1.5" fill="#606060"/><circle cx="67.40" cy="367.90" r="1.5" fill="#606060"/>
<path d="M57.60,428.00 L57.64,428.01 L57.69,428.02 L57.74,428.03 L57.80,428.05 L57.85,428.07 L57.92,428.08 L57.98,428.10 L58.05,428.12 L58.12,428.14 L58.20,428.17 L58.28,428.19 L58.36,428.21 L58.44,428.24 L58.53,428.26 L58.61,428.28 L58.70,428.30 L58.79,428.33 L58.88,428.35 L58.97,428.37 L59.07,428.39 L59.16,428.41 L59.25,428.43 L59.35,428.44 L59.44,428.46 L59.54,428.47 L59.63,428.48 L59.72,428.49 L59.82,428.49 L59.91,428.50 L60.00,428.50 L60.09,428.50 L60.19,428.50 L60.28,428.49 L60.38,428.48 L60.48,428.47 L60.59,428.46 L60.69,428.45 L60.80,428.44 L60.90,428.42 L61.01,428.41 L61.12,428.39 L61.23,428.37 L61.34,428.35 L61.45,428.33 L61.56,428.31 L61.66,428.29 L61.77,428.27 L61.88,428.25 L61.98,428.23 L62.09,428.20 L62.19,428.18 L62.29,428.16 L62.39,428.14 L62.49,428.12 L62.58,428.09 L62.67,428.07 L62.76,428.05 L62.84,428.04 L62.92,428.02 L63.00,428.00 L63.07,427.99 L63.15,428.00 L63.21,428.02 L63.28,428.05 L63.34,428.09 L63.41,428.15 L63.47,428.20 L63.53,428.27 L63.58,428.34 L63.64,428.40 L63.69,428.47 L63.74,428.54 L63.79,428.60 L63.84,428.66 L63.89,428.71 L63.93,428.76 L63.98,428.79 L64.02,428.81 L64.07,428.82 L64.11,428.81 L64.15,428.78 L64.19,428.74 L64.23,428.67 L64.27,428.59 L64.31,428.47 L64.35,428.34 L64.39,428.17 L64.42,427.98 L64.46,427.76 L64.50,427.50 L64.54,427.22 L64.57,426.92 L64.61,426.60 L64.64,426.27 L64.67,425.92 L64.70,425.56 L64.73,425.17 L64.75,424.77 L64.78,424.36 L64.80,423.92 L64.83,423.47 L64.85,423.00 L64.87,422.52 L64.90,422.01 L64.92,421.49 L64.94,420.96 L64.96,420.40 L64.98,419.83 L65.01,419.24 L65.03,418.63 L65.05,418.01 L65.08,417.37 L65.10,416.71 L65.13,416.03 L65.15,415.34 L65.18,414.62 L65.21,413.90 L65.24,413.15 L65.27,412.38 L65.30,411.60 L65.33,410.78 L65.37,409.92 L65.41,409.01 L65.44,408.05 L65.48,407.06 L65.52,406.04 L65.56,404.98 L65.60,403.89 L65.65,402.78 L65.69,401.65 L65.73,400.50 L65.78,399.34 L65.82,398.17 L65.86,396.99 L65.91,395.81 L65.95,394.62 L65.99,393.44 L66.04,392.27 L66.08,391.11 L66.12,389.96 L66.16,388.83 L66.21,387.72 L66.25,386.63 L66.29,385.57 L66.32,384.55 L66.36,383.55 L66.40,382.60 L66.43,381.69 L66.47,380.82 L66.50,380.00 L66.53,379.22 L66.56,378.46 L66.59,377.73 L66.62,377.02 L66.64,376.33 L66.67,375.66 L66.69,375.01 L66.71,374.38 L66.74,373.77 L66.76,373.17 L66.78,372.60 L66.80,372.04 L66.82,371.50 L66.84,370.97 L66.86,370.46 L66.88,369.96 L66.90,369.47 L66.92,369.00 L66.94,368.53 L66.96,368.08 L66.98,367.64 L67.00,367.21 L67.03,366.78 L67.05,366.37 L67.07,365.96 L67.10,365.56 L67.12,365.16 L67.15,364.77 L67.17,364.38 L67.20,364.00 L67.23,363.62 L67.26,363.24 L67.29,362.87 L67.32,362.51 L67.35,362.15 L67.38,361.80 L67.41,361.45 L67.44,361.11 L67.47,360.79 L67.50,360.47 L67.53,360.16 L67.56,359.86 L67.60,359.57 L67.63,359.30 L67.66,359.04 L67.70,358.79 L67.73,358.56 L67.76,358.34 L67.80,358.13 L67.83,357.94 L67.87,357.77 L67.90,357.62 L67.94,357.48 L67.98,357.37 L68.01,357.27 L68.05,357.19 L68.09,357.14 L68.12,357.10 L68.16,357.09 L68.20,357.10 L68.24,357.14 L68.28,357.21 L68.32,357.31 L68.35,357.44 L68.39,357.59 L68.43,357.77 L68.47,357.98 L68.51,358.20 L68.55,358.45 L68.59,358.71 L68.63,359.00 L68.67,359.29 L68.72,359.60 L68.76,359.92 L68.80,360.26 L68.84,360.60 L68.89,360.94 L68.93,361.30 L68.97,361.65 L69.02,362.01 L69.06,362.36 L69.11,362.72 L69.16,363.07 L69.20,363.42 L69.25,363.76 L69.30,364.09 L69.35,364.41 L69.40,364.72 L69.45,365.02 L69.50,365.30 L69.55,365.57 L69.61,365.85 L69.66,366.12 L69.71,366.40 L69.77,366.68 L69.83,366.96 L69.89,367.23 L69.94,367.51 L70.00,367.79 L70.06,368.07 L70.12,368.35 L70.18,368.63 L70.25,368.91 L70.31,369.18 L70.37,369.46 L70.43,369.74 L70.49,370.02 L70.56,370.29 L70.62,370.57 L70.68,370.84 L70.74,371.11 L70.81,371.39 L70.87,371.66 L70.93,371.92 L70.99,372.19 L71.06,372.46 L71.12,372.72 L71.18,372.98 L71.24,373.24 L71.30,373.50 L71.36,373.76 L71.42,374.01 L71.48,374.26 L71.54,374.51 L71.60,374.76 L71.66,375.00 L71.72,375.25 L71.78,375.49 L71.84,375.73 L71.90,375.97 L71.96,376.21 L72.02,376.45 L72.08,376.68 L72.14,376.92 L72.20,377.16 L72.26,377.39 L72.32,377.63 L72.38,377.86 L72.44,378.10 L72.50,378.33 L72.56,378.56 L72.62,378.80 L72.68,379.03 L72.74,379.27 L72.80,379.51 L72.86,379.74 L72.92,379.98 L72.98,380.22 L73.04,380.46 L73.10,380.70 L73.16,380.94 L73.22,381.18 L73.28,381.43 L73.34,381.67 L73.40,381.91 L73.46,382.15 L73.52,382.40 L73.58,382.64 L73.64,382.88 L73.70,383.13 L73.76,383.37 L73.82,383.61 L73.88,383.86 L73.94,384.10 L74.00,384.34 L74.06,384.59 L74.12,384.83 L74.18,385.08 L74.24,385.32 L74.30,385.56 L74.36,385.81 L74.42,386.05 L74.48,386.29 L74.54,386.54 L74.60,386.78 L74.66,387.03 L74.72,387.27 L74.78,387.51 L74.84,387.76 L74.90,388.00 L74.96,388.24 L75.02,388.49 L75.08,388.73 L75.14,388.97 L75.20,389.22 L75.26,389.46 L75.32,389.71 L75.38,389.95 L75.44,390.19 L75.50,390.44 L75.56,390.68 L75.62,390.92 L75.68,391.17 L75.74,391.41 L75.80,391.66 L75.86,391.90 L75.92,392.14 L75.98,392.39 L76.04,392.63 L76.10,392.87 L76.16,393.12 L76.22,393.36 L76.28,393.60 L76.34,393.85 L76.40,394.09 L76.46,394.33 L76.52,394.57 L76.58,394.82 L76.64,395.06 L76.70,395.30 L76.76,395.54 L76.82,395.78 L76.88,396.02 L76.94,396.26 L77.00,396.50 L77.06,396.74 L77.12,396.98 L77.18,397.22 L77.24,397.46 L77.30,397.70 L77.36,397.94 L77.42,398.18 L77.47,398.42 L77.53,398.66 L77.59,398.90 L77.65,399.14 L77.71,399.38 L77.77,399.62 L77.83,399.86 L77.89,400.10 L77.95,400.34 L78.01,400.58 L78.07,400.82 L78.13,401.06 L78.19,401.30 L78.25,401.54 L78.32,401.78 L78.38,402.02 L78.44,402.26 L78.50,402.50 L78.56,402.74 L78.62,402.98 L78.69,403.23 L78.75,403.47 L78.81,403.71 L78.88,403.95 L78.94,404.20 L79.00,404.44 L79.07,404.68 L79.13,404.93 L79.19,405.17 L79.26,405.41 L79.32,405.66 L79.39,405.90 L79.45,406.14 L79.51,406.39 L79.58,406.63 L79.64,406.88 L79.71,407.12 L79.77,407.36 L79.83,407.61 L79.90,407.85 L79.96,408.09 L80.02,408.34 L80.09,408.58 L80.15,408.83 L80.21,409.07 L80.28,409.31 L80.34,409.56 L80.40,409.80 L80.46,410.04 L80.52,410.29 L80.58,410.54 L80.65,410.79 L80.71,411.04 L80.77,411.29 L80.83,411.54 L80.89,411.80 L80.95,412.05 L81.01,412.30 L81.07,412.56 L81.13,412.81 L81.19,413.06 L81.25,413.32 L81.31,413.57 L81.37,413.82 L81.43,414.07 L81.48,414.32 L81.54,414.56 L81.60,414.81 L81.66,415.05 L81.72,415.29 L81.78,415.53 L81.84,415.76 L81.90,415.99 L81.96,416.22 L82.02,416.45 L82.08,416.67 L82.14,416.89 L82.20,417.10 L82.26,417.31 L82.32,417.52 L82.37,417.72 L82.43,417.93 L82.48,418.13 L82.53,418.33 L82.58,418.53 L82.63,418.72 L82.68,418.91 L82.73,419.10 L82.78,419.29 L82.83,419.48 L82.88,419.66 L82.94,419.84 L82.99,420.03 L83.04,420.20 L83.09,420.38 L83.15,420.55 L83.21,420.73 L83.27,420.90 L83.33,421.06 L83.39,421.23 L83.46,421.40 L83.52,421.56 L83.60,421.72 L83.67,421.88 L83.75,422.04 L83.83,422.19 L83.91,422.35 L84.00,422.50 L84.09,422.65 L84.19,422.80 L84.28,422.95 L84.38,423.09 L84.48,423.24 L84.59,423.38 L84.70,423.52 L84.80,423.66 L84.92,423.79 L85.03,423.93 L85.15,424.06 L85.26,424.19 L85.38,424.32 L85.50,424.45 L85.62,424.57 L85.75,424.70 L85.87,424.82 L86.00,424.94 L86.13,425.06 L86.26,425.17 L86.39,425.28 L86.52,425.39 L86.65,425.50 L86.79,425.61 L86.92,425.71 L87.06,425.81 L87.19,425.91 L87.33,426.01 L87.46,426.11 L87.60,426.20 L87.74,426.29 L87.87,426.38 L88.01,426.46 L88.14,426.54 L88.27,426.62 L88.40,426.69 L88.54,426.77 L88.67,426.84 L88.81,426.90 L88.94,426.97 L89.08,427.03 L89.21,427.10 L89.35,427.15 L89.49,427.21 L89.64,427.27 L89.78,427.32 L89.93,427.38 L90.08,427.43 L90.24,427.48 L90.39,427.53 L90.55,427.58 L90.72,427.63 L90.89,427.67 L91.06,427.72 L91.24,427.77 L91.42,427.81 L91.61,427.86 L91.80,427.91 L92.00,427.95 L92.20,428.00 L92.41,428.05 L92.62,428.09 L92.84,428.13 L93.06,428.17 L93.29,428.21 L93.52,428.25 L93.75,428.28 L93.99,428.32 L94.24,428.35 L94.48,428.39 L94.73,428.42 L94.98,428.45 L95.24,428.48 L95.50,428.51 L95.76,428.54 L96.03,428.57 L96.30,428.60 L96.57,428.62 L96.84,428.65 L97.12,428.68 L97.40,428.71 L97.68,428.74 L97.96,428.77 L98.25,428.80 L98.54,428.83 L98.83,428.86 L99.12,428.90 L99.41,428.93 L99.70,428.96 L100.00,429.00 L100.30,429.04 L100.60,429.07 L100.91,429.11 L101.22,429.15 L101.54,429.19 L101.86,429.23 L102.18,429.27 L102.51,429.31 L102.84,429.35 L103.17,429.39 L103.50,429.43 L103.84,429.47 L104.18,429.51 L104.52,429.55 L104.86,429.59 L105.21,429.64 L105.55,429.68 L105.89,429.72 L106.24,429.76 L106.59,429.80 L106.93,429.84 L107.28,429.88 L107.62,429.92 L107.96,429.96 L108.31,430.00 L108.65,430.04 L108.99,430.08 L109.33,430.12 L109.67,430.16 L110.00,430.20 L110.33,430.24 L110.67,430.28 L111.00,430.32 L111.33,430.35 L111.67,430.39 L112.00,430.43 L112.33,430.47 L112.67,430.51 L113.00,430.55 L113.33,430.59 L113.67,430.63 L114.00,430.67 L114.33,430.70 L114.67,430.74 L115.00,430.78 L115.33,430.82 L115.67,430.86 L116.00,430.89 L116.33,430.93 L116.67,430.97 L117.00,431.00 L117.33,431.04 L117.67,431.07 L118.00,431.11 L118.33,431.14 L118.67,431.17 L119.00,431.21 L119.33,431.24 L119.67,431.27 L120.00,431.30 L120.33,431.33 L120.67,431.36 L121.00,431.39 L121.33,431.42 L121.67,431.45 L122.00,431.47 L122.33,431.50 L122.67,431.53 L123.00,431.56 L123.33,431.58 L123.67,431.61 L124.00,431.63 L124.33,431.66 L124.67,431.68 L125.00,431.71 L125.33,431.73 L125.67,431.75 L126.00,431.78 L126.33,431.80 L126.67,431.82 L127.00,431.84 L127.33,431.86 L127.67,431.88 L128.00,431.90 L128.33,431.92 L128.67,431.93 L129.00,431.95 L129.33,431.97 L129.67,431.98 L130.00,432.00 L130.33,432.01 L130.67,432.03 L131.01,432.04 L131.36,432.05 L131.70,432.06 L132.05,432.08 L132.40,432.09 L132.74,432.09 L133.09,432.10 L133.44,432.11 L133.79,432.12 L134.14,432.13 L134.49,432.13 L134.84,432.14 L135.19,432.14 L135.53,432.15 L135.88,432.15 L136.22,432.16 L136.55,432.16 L136.89,432.17 L137.22,432.17 L137.55,432.17 L137.87,432.18 L138.19,432.18 L138.51,432.18 L138.82,432.19 L139.12,432.19 L139.42,432.19 L139.71,432.20 L140.00,432.20 L140.28,432.20 L140.57,432.21 L140.85,432.21 L141.14,432.21 L141.42,432.21 L141.70,432.21 L141.99,432.21 L142.26,432.21 L142.54,432.21 L142.81,432.21 L143.09,432.21 L143.35,432.21 L143.61,432.21 L143.87,432.21 L144.12,432.21 L144.37,432.21 L144.61,432.21 L144.85,432.21 L145.08,432.21 L145.30,432.21 L145.51,432.21 L145.71,432.21 L145.91,432.20 L146.10,432.20 L146.27,432.20 L146.44,432.20 L146.60,432.20 L146.74,432.20 L146.88,432.20 L147.00,432.20" fill="none" stroke="#444" stroke-width="0.9"/><circle cx="57.60" cy="428.21" r="1.5" fill="#000"/><circle cx="58.70" cy="428.53" r="1.5" fill="#000"/><circle cx="59.82" cy="428.48" r="1.5" fill="#000"/><circle cx="61.01" cy="428.24" r="1.5" fill="#000"/><circle cx="62.19" cy="427.83" r="1.5" fill="#000"/><circle cx="63.34" cy="428.21" r="1.5" fill="#000"/><circle cx="64.46" cy="427.74" r="1.5" fill="#000"/><circle cx="67.41" cy="361.63" r="1.5" fill="#000"/><circle cx="68.51" cy="358.12" r="1.5" fill="#000"/><circle cx="69.66" cy="366.31" r="1.5" fill="#000"/><circle cx="70.81" cy="371.23" r="1.5" fill="#000"/><circle cx="71.96" cy="376.42" r="1.5" fill="#000"/><circle cx="73.10" cy="380.86" r="1.5" fill="#000"/><circle cx="74.24" cy="385.26" r="1.5" fill="#000"/><circle cx="75.38" cy="389.98" r="1.5" fill="#000"/><circle cx="76.52" cy="394.70" r="1.5" fill="#000"/><circle cx="77.65" cy="398.92" r="1.5" fill="#000"/><circle cx="78.81" cy="403.75" r="1.5" fill="#000"/><circle cx="79.96" cy="408.31" r="1.5" fill="#000"/><circle cx="81.07" cy="412.39" r="1.5" fill="#000"/><circle cx="82.20" cy="417.31" r="1.5" fill="#000"/><circle cx="83.33" cy="421.19" r="1.5" fill="#000"/><circle cx="84.48" cy="423.48" r="1.5" fill="#000"/><circle cx="85.62" cy="424.34" r="1.5" fill="#000"/><circle cx="86.79" cy="425.04" r="1.5" fill="#000"/><circle cx="88.01" cy="426.88" r="1.5" fill="#000"/><circle cx="89.21" cy="427.52" r="1.5" fill="#000"/><circle cx="90.39" cy="427.45" r="1.5" fill="#000"/><circle cx="91.61" cy="427.29" r="1.5" fill="#000"/><circle cx="92.84" cy="427.71" r="1.5" fill="#000"/><circle cx="93.99" cy="428.51" r="1.5" fill="#000"/><circle cx="95.24" cy="428.19" r="1.5" fill="#000"/><circle cx="96.57" cy="429.26" r="1.5" fill="#000"/><circle cx="97.68" cy="428.86" r="1.5" fill="#000"/><circle cx="98.83" cy="428.44" r="1.5" fill="#000"/><circle cx="100.00" cy="429.22" r="1.5" fill="#000"/><circle cx="101.22" cy="428.96" r="1.5" fill="#000"/><circle cx="102.51" cy="429.91" r="1.5" fill="#000"/><circle cx="103.84" cy="430.04" r="1.5" fill="#000"/><circle cx="105.21" cy="429.66" r="1.5" fill="#000"/><circle cx="106.59" cy="430.00" r="1.5" fill="#000"/><circle cx="107.96" cy="430.24" r="1.5" fill="#000"/><circle cx="109.33" cy="430.55" r="1.5" fill="#000"/><circle cx="110.67" cy="430.94" r="1.5" fill="#000"/><circle cx="112.00" cy="429.77" r="1.5" fill="#000"/><circle cx="113.33" cy="430.39" r="1.5" fill="#000"/><circle cx="114.67" cy="430.89" r="1.5" fill="#000"/><circle cx="116.00" cy="430.62" r="1.5" fill="#000"/><circle cx="117.33" cy="431.16" r="1.5" fill="#000"/><circle cx="118.67" cy="430.60" r="1.5" fill="#000"/><circle cx="120.00" cy="431.83" r="1.5" fill="#000"/><circle cx="121.33" cy="431.45" r="1.5" fill="#000"/><circle cx="122.67" cy="430.99" r="1.5" fill="#000"/><circle cx="124.00" cy="431.86" r="1.5" fill="#000"/><circle cx="125.33" cy="431.47" r="1.5" fill="#000"/><circle cx="126.67" cy="431.39" r="1.5" fill="#000"/><circle cx="128.00" cy="431.88" r="1.5" fill="#000"/><circle cx="129.33" cy="431.46" r="1.5" fill="#000"/><circle cx="130.67" cy="431.62" r="1.5" fill="#000"/><circle cx="132.05" cy="432.59" r="1.5" fill="#000"/><circle cx="133.44" cy="432.39" r="1.5" fill="#000"/><circle cx="134.84" cy="431.46" r="1.5" fill="#000"/><circle cx="136.22" cy="432.55" r="1.5" fill="#000"/><circle cx="137.55" cy="431.50" r="1.5" fill="#000"/><circle cx="138.82" cy="431.95" r="1.5" fill="#000"/><circle cx="140.00" cy="432.77" r="1.5" fill="#000"/><circle cx="141.14" cy="432.38" r="1.5" fill="#000"/><circle cx="142.26" cy="431.94" r="1.5" fill="#000"/><circle cx="143.61" cy="432.04" r="1.5" fill="#000"/><circle cx="144.85" cy="432.05" r="1.5" fill="#000"/><circle cx="146.10" cy="431.68" r="1.5" fill="#000"/><circle cx="67.10" cy="372.85" r="1.5" fill="#000"/><circle cx="67.30" cy="363.69" r="1.5" fill="#000"/><circle cx="68.20" cy="357.25" r="1.5" fill="#000"/><circle cx="67.60" cy="360.17" r="1.5" fill="#000"/><circle cx="69.00" cy="361.43" r="1.5" fill="#000"/><circle cx="69.80" cy="366.34" r="1.5" fill="#000"/>
<line x1="68.5" y1="354.5" x2="68.5" y2="358" stroke="#222" stroke-width="1"/>
<line x1="109.4" y1="383" x2="128.9" y2="383" stroke="#222" stroke-width="0.8"/>
<circle cx="119.9" cy="383" r="1.6" fill="#000"/>
<text transform="translate(132.3,385.6) scale(1,1.1)" font-size="8.5">- BX430</text>
<line x1="109.4" y1="393.1" x2="128.9" y2="393.1" stroke="#888" stroke-width="0.8"/>
<circle cx="119.9" cy="393.1" r="1.5" fill="#666"/>
<text transform="translate(132.3,395.7) scale(1,1.1)" font-size="8.5">+ BX430</text>
<text transform="translate(1.3,429) scale(1,1.08)" font-size="8.5">Calcium</text>
<text transform="translate(1,439.6) scale(1,1.08)" font-size="8.5">(25% Peak)</text>
<line x1="47.5" y1="423.8" x2="47.5" y2="442" stroke="#444" stroke-width="1"/>
<line x1="46.5" y1="441.5" x2="66" y2="441.5" stroke="#444" stroke-width="1"/>
<text transform="translate(49.2,451) scale(1,1.1)" font-size="8.5">50 s</text>
<text transform="translate(176,333.4) scale(1,1.12)" font-size="15">F</text>
<line x1="221.2" y1="343.5" x2="221.2" y2="440" stroke="#6a6a6a" stroke-width="1.4"/>
<line x1="218.8" y1="439.5" x2="221.3" y2="439.5" stroke="#444" stroke-width="1"/>
<text transform="translate(218.2,442.5) scale(1,1.12)" font-size="8.2" text-anchor="end">0</text>
<line x1="218.8" y1="401.5" x2="221.3" y2="401.5" stroke="#444" stroke-width="1"/>
<text transform="translate(218.2,404.29999999999995) scale(1,1.12)" font-size="8.2" text-anchor="end">50</text>
<line x1="218.8" y1="363.5" x2="221.3" y2="363.5" stroke="#444" stroke-width="1"/>
<text transform="translate(218.2,366.2) scale(1,1.12)" font-size="8.2" text-anchor="end">100</text>
<line x1="219.8" y1="420.5" x2="221.3" y2="420.5" stroke="#444" stroke-width="1"/>
<line x1="219.8" y1="382.5" x2="221.3" y2="382.5" stroke="#444" stroke-width="1"/>
<line x1="221.3" y1="439.5" x2="339" y2="439.5" stroke="#444" stroke-width="1"/>
<rect x="226.9" y="363.3" width="47.00" height="76.30" fill="#000"/>
<rect x="286.10" y="406.10" width="46.40" height="33.00" fill="#555" stroke="#222" stroke-width="1"/>
<line x1="250.5" y1="350.3" x2="250.5" y2="363.3" stroke="#333" stroke-width="1"/>
<line x1="249.4" y1="350.5" x2="251.6" y2="350.5" stroke="#222" stroke-width="1"/>
<line x1="309.5" y1="392.6" x2="309.5" y2="419.2" stroke="#333" stroke-width="1"/>
<line x1="308.3" y1="392.5" x2="310.5" y2="392.5" stroke="#222" stroke-width="1"/>
<line x1="308.3" y1="419.5" x2="310.5" y2="419.5" stroke="#333" stroke-width="1"/>
<line x1="250.8" y1="343.5" x2="311.2" y2="343.5" stroke="#444" stroke-width="1"/>
<polygon points="280.00,334.25 280.69,335.90 282.47,336.04 281.11,337.21 281.53,338.95 280.00,338.02 278.47,338.95 278.89,337.21 277.53,336.04 279.31,335.90" fill="#111"/>
<text transform="translate(236.6,449.6) scale(1,1.22)" font-size="8">- BX430</text>
<text transform="translate(294.3,449.6) scale(1,1.22)" font-size="8">+ BX430</text>
<line x1="250" y1="452.5" x2="311.2" y2="452.5" stroke="#444" stroke-width="1"/>
<text transform="translate(258,460.2) scale(1,1.22)" font-size="8">100 μM ATP</text>
<text transform="translate(191.4,392) rotate(-90) scale(1,1.13)" font-size="8.3" text-anchor="middle" style="stroke-width:0.12px;fill:#222;stroke:#222">% Net Calcium Movement</text>
<text transform="translate(201.8,392.3) rotate(-90) scale(1,1.13)" font-size="8.3" text-anchor="middle" style="stroke-width:0.12px;fill:#222;stroke:#222">(normalised to ATP response)</text>
<text transform="translate(342.6,333.9) scale(1,1.12)" font-size="15">G</text>
<line x1="392.4" y1="337.3" x2="392.4" y2="439" stroke="#6a6a6a" stroke-width="1.4"/>
<line x1="389.6" y1="438.5" x2="392.3" y2="438.5" stroke="#444" stroke-width="1"/>
<text transform="translate(389.6,441.7) scale(1,1.0)" font-size="8.8" text-anchor="end">0</text>
<line x1="389.6" y1="398.5" x2="392.3" y2="398.5" stroke="#444" stroke-width="1"/>
<text transform="translate(389.6,401.3) scale(1,1.0)" font-size="8.8" text-anchor="end">50</text>
<line x1="389.6" y1="357.5" x2="392.3" y2="357.5" stroke="#444" stroke-width="1"/>
<text transform="translate(389.6,360.9) scale(1,1.0)" font-size="8.8" text-anchor="end">100</text>
<line x1="390.6" y1="418.5" x2="392.3" y2="418.5" stroke="#444" stroke-width="1"/>
<line x1="390.6" y1="377.5" x2="392.3" y2="377.5" stroke="#444" stroke-width="1"/>
<line x1="390.6" y1="337.5" x2="392.3" y2="337.5" stroke="#444" stroke-width="1"/>
<line x1="392.3" y1="438.5" x2="519" y2="438.5" stroke="#444" stroke-width="1"/>
<rect x="395.90" y="358.20" width="24.30" height="79.80" fill="#555" stroke="#2a2a2a" stroke-width="1"/>
<rect x="427.40" y="393.60" width="24.50" height="44.40" fill="#555" stroke="#2a2a2a" stroke-width="1"/>
<rect x="458.80" y="395.50" width="24.50" height="42.50" fill="#555" stroke="#2a2a2a" stroke-width="1"/>
<rect x="490.50" y="401.30" width="24.50" height="36.70" fill="#555" stroke="#2a2a2a" stroke-width="1"/>
<line x1="408.5" y1="354.4" x2="408.5" y2="361.3" stroke="#222" stroke-width="1"/>
<line x1="406.5" y1="354.5" x2="409.5" y2="354.5" stroke="#222" stroke-width="1"/>
<line x1="406.5" y1="361.5" x2="409.5" y2="361.5" stroke="#222" stroke-width="1"/>
<line x1="439.5" y1="389.5" x2="439.5" y2="397" stroke="#222" stroke-width="1"/>
<line x1="438.2" y1="389.5" x2="441.2" y2="389.5" stroke="#222" stroke-width="1"/>
<line x1="438.2" y1="397.5" x2="441.2" y2="397.5" stroke="#222" stroke-width="1"/>
<line x1="471.5" y1="392.5" x2="471.5" y2="398.8" stroke="#222" stroke-width="1"/>
<line x1="469.5" y1="392.5" x2="472.5" y2="392.5" stroke="#222" stroke-width="1"/>
<line x1="469.5" y1="398.5" x2="472.5" y2="398.5" stroke="#222" stroke-width="1"/>
<line x1="502.5" y1="398.6" x2="502.5" y2="403.2" stroke="#222" stroke-width="1"/>
<line x1="501.2" y1="398.5" x2="504.2" y2="398.5" stroke="#222" stroke-width="1"/>
<line x1="501.2" y1="403.5" x2="504.2" y2="403.5" stroke="#222" stroke-width="1"/>
<polygon points="436.70,381.70 437.26,383.03 438.70,383.15 437.60,384.09 437.93,385.50 436.70,384.74 435.47,385.50 435.80,384.09 434.70,383.15 436.14,383.03" fill="#111"/>
<polygon points="440.60,381.70 441.16,383.03 442.60,383.15 441.50,384.09 441.83,385.50 440.60,384.74 439.37,385.50 439.70,384.09 438.60,383.15 440.04,383.03" fill="#111"/>
<polygon points="444.50,381.70 445.06,383.03 446.50,383.15 445.40,384.09 445.73,385.50 444.50,384.74 443.27,385.50 443.60,384.09 442.50,383.15 443.94,383.03" fill="#111"/>
<polygon points="467.80,387.10 468.36,388.43 469.80,388.55 468.70,389.49 469.03,390.90 467.80,390.14 466.57,390.90 466.90,389.49 465.80,388.55 467.24,388.43" fill="#111"/>
<polygon points="471.70,387.10 472.26,388.43 473.70,388.55 472.60,389.49 472.93,390.90 471.70,390.14 470.47,390.90 470.80,389.49 469.70,388.55 471.14,388.43" fill="#111"/>
<polygon points="475.60,387.10 476.16,388.43 477.60,388.55 476.50,389.49 476.83,390.90 475.60,390.14 474.37,390.90 474.70,389.49 473.60,388.55 475.04,388.43" fill="#111"/>
<polygon points="498.90,393.10 499.46,394.43 500.90,394.55 499.80,395.49 500.13,396.90 498.90,396.14 497.67,396.90 498.00,395.49 496.90,394.55 498.34,394.43" fill="#111"/>
<polygon points="502.80,393.10 503.36,394.43 504.80,394.55 503.70,395.49 504.03,396.90 502.80,396.14 501.57,396.90 501.90,395.49 500.80,394.55 502.24,394.43" fill="#111"/>
<polygon points="506.70,393.10 507.26,394.43 508.70,394.55 507.60,395.49 507.93,396.90 506.70,396.14 505.47,396.90 505.80,395.49 504.70,394.55 506.14,394.43" fill="#111"/>
<line x1="440.5" y1="375.5" x2="503.2" y2="375.5" stroke="#444" stroke-width="1"/>
<polygon points="471.80,369.83 472.43,371.35 474.08,371.49 472.83,372.56 473.21,374.17 471.80,373.31 470.39,374.17 470.77,372.56 469.52,371.49 471.17,371.35" fill="#111"/>
<text transform="translate(408,447.7) scale(1,1.08)" font-size="7.45" text-anchor="middle">Vehicle</text>
<text transform="translate(438.5,447.7) scale(1,1.08)" font-size="7.45" text-anchor="middle">NF340</text>
<text transform="translate(439.5,456.5) scale(1,1.08)" font-size="7.45" text-anchor="middle">+ MRS2211</text>
<text transform="translate(471,447.7) scale(1,1.08)" font-size="7.45" text-anchor="middle">PSB-</text>
<text transform="translate(470.3,456.5) scale(1,1.08)" font-size="7.45" text-anchor="middle">12062</text>
<text transform="translate(502.5,447.7) scale(1,1.08)" font-size="7.45" text-anchor="middle">BX-430</text>
<line x1="407.4" y1="460.5" x2="442.3" y2="460.5" stroke="#444" stroke-width="1"/>
<text transform="translate(422,467.7) scale(1,1.08)" font-size="7.45" text-anchor="middle">ATP</text>
<line x1="471" y1="459.5" x2="505.6" y2="459.5" stroke="#444" stroke-width="1"/>
<text transform="translate(490.5,467.2) scale(1,1.08)" font-size="7.45" text-anchor="middle">ATP + NF340</text>
<text transform="translate(487.5,475.6) scale(1,1.08)" font-size="7.45" text-anchor="middle">+ MRS2211</text>
<text transform="translate(358.2,392) rotate(-90) scale(1,1.13)" font-size="7.4" text-anchor="middle" style="stroke-width:0.12px;fill:#222;stroke:#222">% Ca<tspan font-size="4.6" dy="-2.6">2+</tspan><tspan dy="2.6"> response</tspan></text>
<line x1="408.5" y1="438.5" x2="408.5" y2="440.5" stroke="#444" stroke-width="1"/>
<line x1="439.5" y1="438.5" x2="439.5" y2="440.5" stroke="#444" stroke-width="1"/>
<line x1="471.5" y1="438.5" x2="471.5" y2="440.5" stroke="#444" stroke-width="1"/>
<line x1="502.5" y1="438.5" x2="502.5" y2="440.5" stroke="#444" stroke-width="1"/>
<text transform="translate(369,393) rotate(-90) scale(1,1.13)" font-size="7.2" text-anchor="middle" style="stroke-width:0.12px;fill:#222;stroke:#222">(normalized to ATP response)</text>
</svg>
</body></html>
